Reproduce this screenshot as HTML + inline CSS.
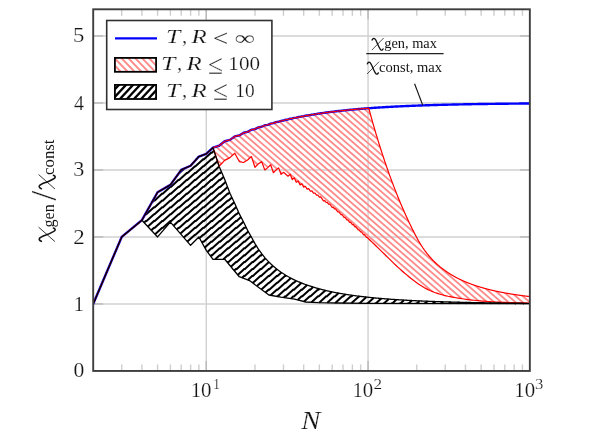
<!DOCTYPE html>
<html><head><meta charset="utf-8"><title>chart</title>
<style>html,body{margin:0;padding:0;background:#fff;}svg{display:block;will-change:transform;}</style>
</head><body>
<svg width="598" height="434" viewBox="0 0 598 434">
<defs>
<clipPath id="cp"><rect x="93.20" y="9.30" width="436.64" height="361.65"/></clipPath>
</defs>
<rect width="598" height="434" fill="#fff"/>
<line x1="93.20" y1="303.95" x2="529.84" y2="303.95" stroke="#d0d0d0" stroke-width="1.4"/>
<line x1="93.20" y1="236.95" x2="529.84" y2="236.95" stroke="#d0d0d0" stroke-width="1.4"/>
<line x1="93.20" y1="169.95" x2="529.84" y2="169.95" stroke="#d0d0d0" stroke-width="1.4"/>
<line x1="93.20" y1="102.95" x2="529.84" y2="102.95" stroke="#d0d0d0" stroke-width="1.4"/>
<line x1="93.20" y1="35.95" x2="529.84" y2="35.95" stroke="#d0d0d0" stroke-width="1.4"/>
<line x1="206.28" y1="9.30" x2="206.28" y2="370.95" stroke="#d0d0d0" stroke-width="1.4"/>
<line x1="368.06" y1="9.30" x2="368.06" y2="370.95" stroke="#d0d0d0" stroke-width="1.4"/>
<line x1="93.20" y1="303.95" x2="103.20" y2="303.95" stroke="#bababa" stroke-width="1.4"/>
<line x1="529.84" y1="303.95" x2="519.84" y2="303.95" stroke="#bababa" stroke-width="1.4"/>
<line x1="93.20" y1="236.95" x2="103.20" y2="236.95" stroke="#bababa" stroke-width="1.4"/>
<line x1="529.84" y1="236.95" x2="519.84" y2="236.95" stroke="#bababa" stroke-width="1.4"/>
<line x1="93.20" y1="169.95" x2="103.20" y2="169.95" stroke="#bababa" stroke-width="1.4"/>
<line x1="529.84" y1="169.95" x2="519.84" y2="169.95" stroke="#bababa" stroke-width="1.4"/>
<line x1="93.20" y1="102.95" x2="103.20" y2="102.95" stroke="#bababa" stroke-width="1.4"/>
<line x1="529.84" y1="102.95" x2="519.84" y2="102.95" stroke="#bababa" stroke-width="1.4"/>
<line x1="93.20" y1="35.95" x2="103.20" y2="35.95" stroke="#bababa" stroke-width="1.4"/>
<line x1="529.84" y1="35.95" x2="519.84" y2="35.95" stroke="#bababa" stroke-width="1.4"/>
<line x1="206.28" y1="370.95" x2="206.28" y2="360.95" stroke="#bababa" stroke-width="1.4"/>
<line x1="206.28" y1="9.30" x2="206.28" y2="19.30" stroke="#bababa" stroke-width="1.4"/>
<line x1="368.06" y1="370.95" x2="368.06" y2="360.95" stroke="#bababa" stroke-width="1.4"/>
<line x1="368.06" y1="9.30" x2="368.06" y2="19.30" stroke="#bababa" stroke-width="1.4"/>
<line x1="121.69" y1="370.95" x2="121.69" y2="364.45" stroke="#cecece" stroke-width="1.4"/>
<line x1="121.69" y1="9.30" x2="121.69" y2="15.80" stroke="#cecece" stroke-width="1.4"/>
<line x1="141.90" y1="370.95" x2="141.90" y2="364.45" stroke="#cecece" stroke-width="1.4"/>
<line x1="141.90" y1="9.30" x2="141.90" y2="15.80" stroke="#cecece" stroke-width="1.4"/>
<line x1="157.58" y1="370.95" x2="157.58" y2="364.45" stroke="#cecece" stroke-width="1.4"/>
<line x1="157.58" y1="9.30" x2="157.58" y2="15.80" stroke="#cecece" stroke-width="1.4"/>
<line x1="170.39" y1="370.95" x2="170.39" y2="364.45" stroke="#cecece" stroke-width="1.4"/>
<line x1="170.39" y1="9.30" x2="170.39" y2="15.80" stroke="#cecece" stroke-width="1.4"/>
<line x1="181.22" y1="370.95" x2="181.22" y2="364.45" stroke="#cecece" stroke-width="1.4"/>
<line x1="181.22" y1="9.30" x2="181.22" y2="15.80" stroke="#cecece" stroke-width="1.4"/>
<line x1="190.60" y1="370.95" x2="190.60" y2="364.45" stroke="#cecece" stroke-width="1.4"/>
<line x1="190.60" y1="9.30" x2="190.60" y2="15.80" stroke="#cecece" stroke-width="1.4"/>
<line x1="198.88" y1="370.95" x2="198.88" y2="364.45" stroke="#cecece" stroke-width="1.4"/>
<line x1="198.88" y1="9.30" x2="198.88" y2="15.80" stroke="#cecece" stroke-width="1.4"/>
<line x1="254.98" y1="370.95" x2="254.98" y2="364.45" stroke="#cecece" stroke-width="1.4"/>
<line x1="254.98" y1="9.30" x2="254.98" y2="15.80" stroke="#cecece" stroke-width="1.4"/>
<line x1="283.47" y1="370.95" x2="283.47" y2="364.45" stroke="#cecece" stroke-width="1.4"/>
<line x1="283.47" y1="9.30" x2="283.47" y2="15.80" stroke="#cecece" stroke-width="1.4"/>
<line x1="303.68" y1="370.95" x2="303.68" y2="364.45" stroke="#cecece" stroke-width="1.4"/>
<line x1="303.68" y1="9.30" x2="303.68" y2="15.80" stroke="#cecece" stroke-width="1.4"/>
<line x1="319.36" y1="370.95" x2="319.36" y2="364.45" stroke="#cecece" stroke-width="1.4"/>
<line x1="319.36" y1="9.30" x2="319.36" y2="15.80" stroke="#cecece" stroke-width="1.4"/>
<line x1="332.17" y1="370.95" x2="332.17" y2="364.45" stroke="#cecece" stroke-width="1.4"/>
<line x1="332.17" y1="9.30" x2="332.17" y2="15.80" stroke="#cecece" stroke-width="1.4"/>
<line x1="343.00" y1="370.95" x2="343.00" y2="364.45" stroke="#cecece" stroke-width="1.4"/>
<line x1="343.00" y1="9.30" x2="343.00" y2="15.80" stroke="#cecece" stroke-width="1.4"/>
<line x1="352.38" y1="370.95" x2="352.38" y2="364.45" stroke="#cecece" stroke-width="1.4"/>
<line x1="352.38" y1="9.30" x2="352.38" y2="15.80" stroke="#cecece" stroke-width="1.4"/>
<line x1="360.66" y1="370.95" x2="360.66" y2="364.45" stroke="#cecece" stroke-width="1.4"/>
<line x1="360.66" y1="9.30" x2="360.66" y2="15.80" stroke="#cecece" stroke-width="1.4"/>
<line x1="416.76" y1="370.95" x2="416.76" y2="364.45" stroke="#cecece" stroke-width="1.4"/>
<line x1="416.76" y1="9.30" x2="416.76" y2="15.80" stroke="#cecece" stroke-width="1.4"/>
<line x1="445.25" y1="370.95" x2="445.25" y2="364.45" stroke="#cecece" stroke-width="1.4"/>
<line x1="445.25" y1="9.30" x2="445.25" y2="15.80" stroke="#cecece" stroke-width="1.4"/>
<line x1="465.46" y1="370.95" x2="465.46" y2="364.45" stroke="#cecece" stroke-width="1.4"/>
<line x1="465.46" y1="9.30" x2="465.46" y2="15.80" stroke="#cecece" stroke-width="1.4"/>
<line x1="481.14" y1="370.95" x2="481.14" y2="364.45" stroke="#cecece" stroke-width="1.4"/>
<line x1="481.14" y1="9.30" x2="481.14" y2="15.80" stroke="#cecece" stroke-width="1.4"/>
<line x1="493.95" y1="370.95" x2="493.95" y2="364.45" stroke="#cecece" stroke-width="1.4"/>
<line x1="493.95" y1="9.30" x2="493.95" y2="15.80" stroke="#cecece" stroke-width="1.4"/>
<line x1="504.78" y1="370.95" x2="504.78" y2="364.45" stroke="#cecece" stroke-width="1.4"/>
<line x1="504.78" y1="9.30" x2="504.78" y2="15.80" stroke="#cecece" stroke-width="1.4"/>
<line x1="514.16" y1="370.95" x2="514.16" y2="364.45" stroke="#cecece" stroke-width="1.4"/>
<line x1="514.16" y1="9.30" x2="514.16" y2="15.80" stroke="#cecece" stroke-width="1.4"/>
<line x1="522.44" y1="370.95" x2="522.44" y2="364.45" stroke="#cecece" stroke-width="1.4"/>
<line x1="522.44" y1="9.30" x2="522.44" y2="15.80" stroke="#cecece" stroke-width="1.4"/>
<g clip-path="url(#cp)">
<clipPath id="cr"><path d="M93.20,303.95 L121.69,236.95 L141.90,220.20 L157.58,192.28 L170.39,184.84 L181.22,169.95 L190.60,165.76 L198.88,156.55 L206.28,153.87 L212.98,147.62 L219.09,145.76 L224.71,141.24 L229.92,139.87 L234.77,136.45 L239.30,135.40 L243.56,132.73 L247.58,131.90 L251.38,129.75 L254.98,129.08 L258.41,127.31 L261.68,126.76 L264.80,125.28 L267.79,124.82 L270.66,123.57 L273.41,123.17 L276.07,122.09 L278.62,121.75 L281.09,120.82 L283.47,120.52 L285.77,119.70 L288.00,119.44 L290.16,118.71 L292.26,118.48 L294.30,117.84 L296.28,117.63 L298.20,117.06 L300.08,116.87 L301.90,116.35 L303.68,116.18 L305.42,115.71 L307.11,115.56 L308.76,115.13 L310.38,114.99 L311.96,114.60 L313.50,114.48 L315.01,114.12 L316.49,114.00 L317.94,113.67 L319.36,113.56 L320.75,113.26 L322.11,113.16 L323.45,112.88 L324.77,112.78 L326.06,112.52 L327.32,112.44 L328.56,112.19 L329.79,112.11 L330.99,111.88 L332.17,111.81 L333.33,111.60 L334.47,111.53 L335.60,111.32 L336.70,111.26 L337.79,111.07 L338.87,111.01 L339.92,110.83 L340.96,110.77 L341.99,110.61 L343.00,110.55 L344.00,110.39 L344.98,110.34 L345.95,110.19 L346.90,110.14 L347.85,110.00 L348.78,109.96 L349.70,109.82 L350.60,109.78 L351.50,109.65 L352.38,109.61 L353.25,109.49 L354.12,109.45 L354.97,109.33 L355.81,109.29 L356.64,109.18 L357.46,109.15 L358.27,109.04 L359.08,109.01 L359.87,108.91 L360.66,108.87 L361.43,108.78 L362.20,108.74 L362.96,108.65 L363.71,108.62 L364.46,108.53 L365.19,108.50 L365.92,108.42 L366.64,108.39 L367.35,108.31 L368.06,108.28 L368.76,108.20 L369.45,110.78 L370.14,113.26 L370.82,115.74 L371.49,118.12 L372.15,120.51 L372.81,122.80 L373.47,125.10 L374.11,127.31 L374.76,129.53 L375.39,131.66 L376.02,133.80 L376.65,135.86 L377.27,137.92 L377.88,139.92 L378.49,141.91 L379.09,143.83 L379.69,145.76 L380.28,147.62 L380.87,149.48 L381.45,151.28 L382.03,153.08 L382.60,154.82 L383.17,156.56 L383.74,158.25 L384.30,159.94 L384.85,161.57 L385.40,163.21 L385.95,164.80 L386.49,166.38 L387.03,167.92 L387.57,169.46 L388.10,170.95 L388.62,172.44 L389.14,173.89 L389.66,175.34 L390.18,176.75 L390.69,178.15 L391.20,179.52 L391.70,180.89 L392.20,182.22 L392.70,183.55 L393.19,184.84 L393.68,186.13 L394.17,187.39 L394.65,188.65 L395.13,189.87 L395.60,191.09 L396.08,192.28 L396.55,193.47 L397.01,194.63 L397.48,195.79 L397.94,196.92 L398.40,198.05 L398.85,199.16 L399.30,200.26 L399.75,201.33 L400.20,202.40 L400.64,203.45 L401.08,204.50 L401.52,205.52 L401.95,206.54 L402.39,207.54 L402.82,208.53 L403.24,209.50 L403.67,210.48 L404.09,211.43 L404.51,212.38 L404.93,213.30 L405.34,214.23 L405.75,215.14 L406.16,216.04 L406.57,216.93 L406.98,217.81 L407.38,218.68 L407.78,219.54 L408.18,220.39 L408.57,221.23 L408.97,222.06 L409.36,222.89 L409.75,223.70 L410.13,224.51 L410.52,225.30 L410.90,226.09 L411.28,226.86 L411.66,227.64 L412.04,228.40 L412.41,229.16 L412.79,229.90 L413.16,230.64 L413.52,231.37 L413.89,232.09 L414.26,232.81 L414.62,233.52 L414.98,234.22 L415.34,234.91 L415.70,235.60 L416.05,236.28 L416.41,236.95 L416.76,237.62 L417.11,238.28 L417.46,238.92 L417.81,239.55 L418.15,240.17 L418.49,240.78 L418.84,241.37 L419.18,241.96 L419.52,242.53 L419.85,243.10 L420.19,243.65 L420.52,244.19 L420.85,244.73 L421.18,245.25 L421.51,245.77 L421.84,246.27 L422.17,246.77 L422.49,247.26 L422.81,247.74 L423.14,248.21 L423.46,248.68 L423.78,249.13 L424.09,249.58 L424.41,250.02 L424.72,250.46 L425.04,250.89 L425.35,251.31 L425.66,251.72 L425.97,252.13 L426.27,252.53 L426.58,252.93 L426.88,253.32 L427.19,253.70 L427.49,254.08 L427.79,254.45 L428.09,254.82 L428.39,255.18 L428.69,255.53 L428.98,255.88 L429.28,256.23 L429.57,256.57 L429.86,256.91 L430.15,257.24 L430.44,257.57 L430.73,257.89 L431.02,258.21 L431.30,258.52 L431.59,258.83 L431.87,259.13 L432.16,259.43 L432.44,259.73 L432.72,260.02 L433.00,260.31 L433.28,260.60 L433.55,260.88 L433.83,261.16 L434.10,261.43 L434.38,261.70 L434.65,261.97 L434.92,262.23 L435.19,262.49 L435.46,262.75 L435.73,263.01 L436.00,263.26 L436.27,263.50 L436.53,263.75 L436.80,263.99 L437.06,264.23 L437.32,264.47 L437.58,264.70 L437.85,264.93 L438.11,265.16 L438.36,265.39 L438.62,265.61 L438.88,265.83 L439.13,266.05 L439.39,266.26 L439.64,266.48 L439.90,266.69 L440.15,266.89 L440.40,267.10 L440.65,267.30 L440.90,267.50 L441.15,267.70 L441.40,267.90 L441.64,268.10 L441.89,268.29 L442.14,268.48 L442.38,268.67 L442.62,268.85 L442.87,269.04 L443.11,269.22 L443.35,269.40 L443.59,269.58 L443.83,269.76 L444.07,269.93 L444.30,270.11 L444.54,270.28 L444.78,270.45 L445.01,270.62 L445.25,270.78 L445.48,270.95 L445.71,271.11 L445.95,271.28 L446.18,271.44 L446.41,271.59 L446.64,271.75 L446.87,271.91 L447.10,272.06 L447.32,272.21 L447.55,272.36 L447.78,272.51 L448.00,272.66 L448.23,272.81 L448.45,272.95 L448.68,273.10 L448.90,273.24 L449.12,273.38 L449.34,273.52 L449.56,273.66 L449.78,273.80 L450.00,273.94 L450.22,274.07 L450.44,274.21 L450.66,274.34 L450.87,274.47 L451.09,274.60 L451.30,274.73 L451.52,274.86 L451.73,274.98 L451.94,275.11 L452.16,275.24 L452.37,275.36 L452.58,275.48 L452.79,275.60 L453.00,275.72 L453.21,275.84 L453.42,275.96 L453.63,276.08 L453.84,276.20 L454.04,276.31 L454.25,276.43 L454.45,276.54 L454.66,276.65 L454.86,276.77 L455.07,276.88 L455.27,276.99 L455.47,277.10 L455.68,277.20 L455.88,277.31 L456.08,277.42 L456.28,277.52 L456.48,277.63 L456.68,277.73 L456.88,277.84 L457.08,277.94 L457.27,278.04 L457.47,278.14 L457.67,278.24 L457.86,278.34 L458.06,278.44 L458.25,278.54 L458.45,278.63 L458.64,278.73 L458.83,278.82 L459.03,278.92 L459.22,279.01 L459.41,279.11 L459.60,279.20 L459.79,279.29 L459.98,279.38 L460.17,279.47 L460.36,279.56 L460.55,279.65 L460.74,279.74 L460.93,279.83 L461.11,279.92 L461.30,280.00 L461.49,280.09 L461.67,280.18 L461.86,280.26 L462.04,280.35 L462.23,280.43 L462.41,280.51 L462.59,280.59 L462.78,280.68 L462.96,280.76 L463.14,280.84 L463.32,280.92 L463.50,281.00 L463.68,281.08 L463.86,281.16 L464.04,281.23 L464.22,281.31 L464.40,281.39 L464.58,281.47 L464.75,281.54 L464.93,281.62 L465.11,281.69 L465.28,281.77 L465.46,281.84 L465.64,281.91 L465.81,281.99 L465.99,282.06 L466.16,282.13 L466.33,282.20 L466.51,282.27 L466.68,282.34 L466.85,282.41 L467.02,282.48 L467.20,282.55 L467.37,282.62 L467.54,282.69 L467.71,282.76 L467.88,282.83 L468.05,282.89 L468.22,282.96 L468.38,283.03 L468.55,283.09 L468.72,283.16 L468.89,283.22 L469.06,283.29 L469.22,283.35 L469.39,283.41 L469.55,283.48 L469.72,283.54 L469.89,283.60 L470.05,283.67 L470.21,283.73 L470.38,283.79 L470.54,283.85 L470.71,283.91 L470.87,283.97 L471.03,284.03 L471.19,284.09 L471.35,284.15 L471.52,284.21 L471.68,284.27 L471.84,284.33 L472.00,284.38 L472.16,284.44 L472.32,284.50 L472.48,284.56 L472.63,284.61 L472.79,284.67 L472.95,284.72 L473.11,284.78 L473.27,284.83 L473.42,284.89 L473.58,284.94 L473.74,285.00 L473.89,285.05 L474.05,285.11 L474.20,285.16 L474.36,285.21 L474.51,285.27 L474.67,285.32 L474.82,285.37 L474.97,285.42 L475.13,285.47 L475.28,285.52 L475.43,285.58 L475.59,285.63 L475.74,285.68 L475.89,285.73 L476.04,285.78 L476.19,285.83 L476.34,285.88 L476.49,285.93 L476.64,285.97 L476.79,286.02 L476.94,286.07 L477.09,286.12 L477.24,286.17 L477.39,286.21 L477.53,286.26 L477.68,286.31 L477.83,286.36 L477.98,286.40 L478.12,286.45 L478.27,286.49 L478.42,286.54 L478.56,286.59 L478.71,286.63 L478.85,286.68 L479.00,286.72 L479.14,286.77 L479.29,286.81 L479.43,286.85 L479.58,286.90 L479.72,286.94 L479.86,286.99 L480.01,287.03 L480.15,287.07 L480.29,287.11 L480.43,287.16 L480.57,287.20 L480.72,287.24 L480.86,287.28 L481.00,287.33 L481.14,287.37 L481.28,287.41 L481.42,287.45 L481.56,287.49 L481.70,287.53 L481.84,287.57 L481.98,287.61 L482.12,287.65 L482.25,287.69 L482.39,287.73 L482.53,287.77 L482.67,287.81 L482.81,287.85 L482.94,287.89 L483.08,287.93 L483.22,287.97 L483.35,288.01 L483.49,288.04 L483.62,288.08 L483.76,288.12 L483.89,288.16 L484.03,288.19 L484.16,288.23 L484.30,288.27 L484.43,288.31 L484.57,288.34 L484.70,288.38 L484.83,288.42 L484.97,288.45 L485.10,288.49 L485.23,288.52 L485.37,288.56 L485.50,288.60 L485.63,288.63 L485.76,288.67 L485.89,288.70 L486.02,288.74 L486.15,288.77 L486.29,288.81 L486.42,288.84 L486.55,288.88 L486.68,288.91 L486.81,288.94 L486.94,288.98 L487.06,289.01 L487.19,289.04 L487.32,289.08 L487.45,289.11 L487.58,289.14 L487.71,289.18 L487.84,289.21 L487.96,289.24 L488.09,289.28 L488.22,289.31 L488.34,289.34 L488.47,289.37 L488.60,289.40 L488.72,289.44 L488.85,289.47 L488.98,289.50 L489.10,289.53 L489.23,289.56 L489.35,289.59 L489.48,289.62 L489.60,289.65 L489.73,289.69 L489.85,289.72 L489.97,289.75 L490.10,289.78 L490.22,289.81 L490.34,289.84 L490.47,289.87 L490.59,289.90 L490.71,289.93 L490.84,289.96 L490.96,289.99 L491.08,290.02 L491.20,290.04 L491.32,290.07 L491.45,290.10 L491.57,290.13 L491.69,290.16 L491.81,290.19 L491.93,290.22 L492.05,290.25 L492.17,290.27 L492.29,290.30 L492.41,290.33 L492.53,290.36 L492.65,290.39 L492.77,290.41 L492.89,290.44 L493.01,290.47 L493.12,290.50 L493.24,290.52 L493.36,290.55 L493.48,290.58 L493.60,290.60 L493.71,290.63 L493.83,290.66 L493.95,290.68 L494.07,290.71 L494.18,290.74 L494.30,290.76 L494.42,290.79 L494.53,290.82 L494.65,290.84 L494.76,290.87 L494.88,290.89 L494.99,290.92 L495.11,290.94 L495.23,290.97 L495.34,290.99 L495.45,291.02 L495.57,291.05 L495.68,291.07 L495.80,291.10 L495.91,291.12 L496.03,291.14 L496.14,291.17 L496.25,291.19 L496.37,291.22 L496.48,291.24 L496.59,291.27 L496.70,291.29 L496.82,291.32 L496.93,291.34 L497.04,291.36 L497.15,291.39 L497.27,291.41 L497.38,291.43 L497.49,291.46 L497.60,291.48 L497.71,291.51 L497.82,291.53 L497.93,291.55 L498.04,291.57 L498.15,291.60 L498.26,291.62 L498.37,291.64 L498.48,291.67 L498.59,291.69 L498.70,291.71 L498.81,291.73 L498.92,291.76 L499.03,291.78 L499.14,291.80 L499.25,291.82 L499.36,291.85 L499.46,291.87 L499.57,291.89 L499.68,291.91 L499.79,291.93 L499.90,291.96 L500.00,291.98 L500.11,292.00 L500.22,292.02 L500.33,292.04 L500.43,292.06 L500.54,292.08 L500.65,292.11 L500.75,292.13 L500.86,292.15 L500.96,292.17 L501.07,292.19 L501.18,292.21 L501.28,292.23 L501.39,292.25 L501.49,292.27 L501.60,292.29 L501.70,292.31 L501.81,292.33 L501.91,292.35 L502.02,292.37 L502.12,292.39 L502.22,292.41 L502.33,292.43 L502.43,292.45 L502.54,292.47 L502.64,292.49 L502.74,292.51 L502.85,292.53 L502.95,292.55 L503.05,292.57 L503.15,292.59 L503.26,292.61 L503.36,292.63 L503.46,292.65 L503.56,292.67 L503.67,292.69 L503.77,292.71 L503.87,292.73 L503.97,292.75 L504.07,292.76 L504.17,292.78 L504.28,292.80 L504.38,292.82 L504.48,292.84 L504.58,292.86 L504.68,292.88 L504.78,292.89 L504.88,292.91 L504.98,292.93 L505.08,292.95 L505.18,292.97 L505.28,292.99 L505.38,293.00 L505.48,293.02 L505.58,293.04 L505.68,293.06 L505.78,293.08 L505.87,293.09 L505.97,293.11 L506.07,293.13 L506.17,293.15 L506.27,293.16 L506.37,293.18 L506.47,293.20 L506.56,293.22 L506.66,293.23 L506.76,293.25 L506.86,293.27 L506.95,293.29 L507.05,293.30 L507.15,293.32 L507.24,293.34 L507.34,293.35 L507.44,293.37 L507.53,293.39 L507.63,293.40 L507.73,293.42 L507.82,293.44 L507.92,293.45 L508.02,293.47 L508.11,293.49 L508.21,293.50 L508.30,293.52 L508.40,293.54 L508.49,293.55 L508.59,293.57 L508.68,293.59 L508.78,293.60 L508.87,293.62 L508.97,293.63 L509.06,293.65 L509.16,293.67 L509.25,293.68 L509.35,293.70 L509.44,293.71 L509.53,293.73 L509.63,293.75 L509.72,293.76 L509.81,293.78 L509.91,293.79 L510.00,293.81 L510.09,293.82 L510.19,293.84 L510.28,293.85 L510.37,293.87 L510.46,293.88 L510.56,293.90 L510.65,293.92 L510.74,293.93 L510.83,293.95 L510.93,293.96 L511.02,293.98 L511.11,293.99 L511.20,294.01 L511.29,294.02 L511.38,294.04 L511.48,294.05 L511.57,294.06 L511.66,294.08 L511.75,294.09 L511.84,294.11 L511.93,294.12 L512.02,294.14 L512.11,294.15 L512.20,294.17 L512.29,294.18 L512.38,294.20 L512.47,294.21 L512.56,294.22 L512.65,294.24 L512.74,294.25 L512.83,294.27 L512.92,294.28 L513.01,294.29 L513.10,294.31 L513.19,294.32 L513.28,294.34 L513.37,294.35 L513.46,294.36 L513.54,294.38 L513.63,294.39 L513.72,294.41 L513.81,294.42 L513.90,294.43 L513.99,294.45 L514.07,294.46 L514.16,294.47 L514.25,294.49 L514.34,294.50 L514.42,294.51 L514.51,294.53 L514.60,294.54 L514.69,294.55 L514.77,294.57 L514.86,294.58 L514.95,294.59 L515.03,294.61 L515.12,294.62 L515.21,294.63 L515.29,294.65 L515.38,294.66 L515.47,294.67 L515.55,294.69 L515.64,294.70 L515.72,294.71 L515.81,294.72 L515.90,294.74 L515.98,294.75 L516.07,294.76 L516.15,294.78 L516.24,294.79 L516.32,294.80 L516.41,294.81 L516.49,294.83 L516.58,294.84 L516.66,294.85 L516.75,294.86 L516.83,294.88 L516.92,294.89 L517.00,294.90 L517.09,294.91 L517.17,294.93 L517.25,294.94 L517.34,294.95 L517.42,294.96 L517.51,294.97 L517.59,294.99 L517.67,295.00 L517.76,295.01 L517.84,295.02 L517.92,295.03 L518.01,295.05 L518.09,295.06 L518.17,295.07 L518.26,295.08 L518.34,295.09 L518.42,295.11 L518.50,295.12 L518.59,295.13 L518.67,295.14 L518.75,295.15 L518.83,295.16 L518.91,295.18 L519.00,295.19 L519.08,295.20 L519.16,295.21 L519.24,295.22 L519.32,295.23 L519.41,295.25 L519.49,295.26 L519.57,295.27 L519.65,295.28 L519.73,295.29 L519.81,295.30 L519.89,295.31 L519.97,295.32 L520.05,295.34 L520.14,295.35 L520.22,295.36 L520.30,295.37 L520.38,295.38 L520.46,295.39 L520.54,295.40 L520.62,295.41 L520.70,295.42 L520.78,295.44 L520.86,295.45 L520.94,295.46 L521.02,295.47 L521.10,295.48 L521.18,295.49 L521.26,295.50 L521.34,295.51 L521.41,295.52 L521.49,295.53 L521.57,295.54 L521.65,295.55 L521.73,295.56 L521.81,295.57 L521.89,295.59 L521.97,295.60 L522.05,295.61 L522.12,295.62 L522.20,295.63 L522.28,295.64 L522.36,295.65 L522.44,295.66 L522.51,295.67 L522.59,295.68 L522.67,295.69 L522.75,295.70 L522.83,295.71 L522.90,295.72 L522.98,295.73 L523.06,295.74 L523.14,295.75 L523.21,295.76 L523.29,295.77 L523.37,295.78 L523.44,295.79 L523.52,295.80 L523.60,295.81 L523.67,295.82 L523.75,295.83 L523.83,295.84 L523.90,295.85 L523.98,295.86 L524.06,295.87 L524.13,295.88 L524.21,295.89 L524.29,295.90 L524.36,295.91 L524.44,295.92 L524.51,295.93 L524.59,295.94 L524.66,295.95 L524.74,295.96 L524.82,295.97 L524.89,295.98 L524.97,295.99 L525.04,296.00 L525.12,296.01 L525.19,296.02 L525.27,296.03 L525.34,296.03 L525.42,296.04 L525.49,296.05 L525.57,296.06 L525.64,296.07 L525.72,296.08 L525.79,296.09 L525.86,296.10 L525.94,296.11 L526.01,296.12 L526.09,296.13 L526.16,296.14 L526.24,296.15 L526.31,296.16 L526.38,296.16 L526.46,296.17 L526.53,296.18 L526.60,296.19 L526.68,296.20 L526.75,296.21 L526.82,296.22 L526.90,296.23 L526.97,296.24 L527.04,296.25 L527.12,296.26 L527.19,296.26 L527.26,296.27 L527.34,296.28 L527.41,296.29 L527.48,296.30 L527.55,296.31 L527.63,296.32 L527.70,296.33 L527.77,296.33 L527.84,296.34 L527.92,296.35 L527.99,296.36 L528.06,296.37 L528.13,296.38 L528.20,296.39 L528.28,296.40 L528.35,296.40 L528.42,296.41 L528.49,296.42 L528.56,296.43 L528.63,296.44 L528.71,296.45 L528.78,296.46 L528.85,296.46 L528.92,296.47 L528.99,296.48 L529.06,296.49 L529.13,296.50 L529.20,296.51 L529.28,296.51 L529.35,296.52 L529.42,296.53 L529.49,296.54 L529.56,296.55 L529.63,296.56 L529.70,296.56 L529.77,296.57 L529.84,296.58 L529.84,303.00 L528.06,302.98 L526.06,302.96 L524.06,302.93 L522.06,302.89 L520.06,302.85 L518.06,302.80 L516.06,302.75 L514.06,302.69 L512.06,302.63 L510.06,302.57 L508.06,302.50 L506.06,302.44 L504.06,302.37 L502.06,302.29 L500.06,302.20 L498.06,302.10 L496.06,302.00 L494.06,301.88 L492.06,301.76 L490.06,301.64 L488.06,301.50 L486.06,301.36 L484.06,301.21 L482.06,301.05 L480.06,300.87 L478.06,300.68 L476.06,300.48 L474.06,300.26 L472.06,300.03 L470.06,299.80 L468.06,299.56 L466.06,299.30 L464.06,299.03 L462.06,298.74 L460.06,298.44 L458.06,298.12 L456.06,297.78 L454.06,297.43 L452.06,297.07 L450.06,296.67 L448.06,296.26 L446.06,295.80 L444.06,295.32 L442.06,294.79 L440.06,294.22 L438.06,293.60 L436.06,292.94 L434.06,292.22 L432.06,291.42 L430.06,290.55 L428.06,289.61 L426.06,288.60 L424.06,287.53 L422.06,286.34 L420.06,285.06 L418.06,283.70 L416.06,282.29 L414.06,280.84 L412.06,279.32 L410.06,277.72 L408.06,276.08 L406.06,274.40 L404.06,272.70 L402.06,270.96 L400.06,269.17 L398.06,267.35 L396.06,265.50 L394.06,263.60 L392.06,261.64 L390.06,259.64 L388.06,257.67 L386.06,255.71 L384.06,253.76 L382.06,251.81 L380.06,249.87 L378.06,247.92 L376.06,245.99 L374.06,244.05 L372.06,242.13 L370.06,240.20 L368.06,238.29 L367.35,237.36 L366.64,237.52 L365.92,236.58 L365.19,235.63 L364.46,234.66 L363.71,234.81 L362.96,233.82 L362.20,232.82 L361.43,231.79 L360.66,231.94 L359.87,230.89 L359.08,229.84 L358.27,229.97 L357.46,228.89 L356.64,227.78 L355.81,226.67 L354.97,226.79 L354.12,225.65 L353.25,224.47 L352.38,224.61 L351.50,223.41 L350.60,222.19 L349.70,222.31 L348.78,221.07 L347.85,219.78 L346.90,219.92 L345.95,218.59 L344.98,217.27 L344.00,217.38 L343.00,216.01 L341.99,214.59 L340.96,214.72 L339.92,213.26 L338.87,211.80 L337.79,211.90 L336.70,210.39 L335.60,208.81 L334.47,208.93 L333.33,207.31 L332.17,207.44 L330.99,205.76 L329.79,204.07 L328.56,204.15 L327.32,202.41 L326.06,202.49 L324.77,200.69 L323.45,200.78 L322.11,198.91 L320.75,196.94 L319.36,197.06 L317.94,195.01 L316.49,195.14 L315.01,193.00 L313.50,193.14 L311.96,190.87 L310.38,191.22 L308.76,188.63 L307.11,189.24 L305.42,186.27 L303.68,187.14 L301.90,183.74 L300.08,184.88 L298.20,180.96 L296.28,182.37 L294.30,177.85 L292.26,179.53 L290.16,174.29 L288.00,176.23 L285.77,174.30 L283.47,172.33 L281.09,174.42 L278.62,167.90 L276.07,169.95 L273.41,172.73 L270.66,164.80 L267.79,167.62 L264.80,169.95 L261.68,161.64 L258.41,163.86 L254.98,167.27 L251.38,156.55 L247.58,160.02 L243.56,162.51 L239.30,161.57 L234.77,153.20 L229.92,157.64 L224.71,160.38 L219.09,166.23 L212.98,147.62 L206.28,153.87 L198.88,156.55 L190.60,165.76 L181.22,169.95 L170.39,184.84 L157.58,192.28 L141.90,220.20 L121.69,236.95 L93.20,303.95Z"/></clipPath>
<clipPath id="cb"><path d="M93.20,303.95 L121.69,236.95 L141.90,220.20 L157.58,192.28 L170.39,184.84 L181.22,169.95 L190.60,165.76 L198.88,156.55 L206.28,153.87 L212.98,147.62 L219.09,166.23 L224.71,179.52 L229.92,193.19 L234.77,203.45 L239.30,213.92 L243.56,222.06 L247.58,230.33 L251.38,236.95 L254.98,243.65 L258.41,249.13 L261.68,253.70 L264.80,257.57 L267.79,260.88 L270.66,263.75 L273.41,266.26 L276.07,268.48 L278.62,270.45 L281.09,272.21 L283.47,273.80 L285.77,275.24 L288.00,276.54 L290.16,277.73 L292.26,278.82 L294.30,279.83 L296.28,280.76 L298.20,281.62 L300.08,282.41 L301.90,283.16 L303.68,283.85 L305.42,284.50 L307.11,285.11 L308.76,285.68 L310.38,286.21 L311.96,286.72 L313.50,287.20 L315.01,287.65 L316.49,288.08 L317.94,288.49 L319.36,288.88 L320.75,289.24 L322.11,289.59 L323.45,289.93 L324.77,290.25 L326.06,290.55 L327.32,290.84 L328.56,291.12 L329.79,291.39 L330.99,291.64 L332.17,291.89 L333.33,292.13 L334.47,292.35 L335.60,292.57 L336.70,292.78 L337.79,292.99 L338.87,293.18 L339.92,293.37 L340.96,293.55 L341.99,293.73 L343.00,293.90 L344.00,294.06 L344.98,294.22 L345.95,294.38 L346.90,294.53 L347.85,294.67 L348.78,294.81 L349.70,294.95 L350.60,295.08 L351.50,295.21 L352.38,295.34 L353.25,295.46 L354.12,295.57 L354.97,295.69 L355.81,295.80 L356.64,295.91 L357.46,296.02 L358.27,296.12 L359.08,296.22 L359.87,296.32 L360.66,296.41 L361.43,296.51 L362.20,296.60 L362.96,296.68 L363.71,296.77 L364.46,296.86 L365.19,296.94 L365.92,297.02 L366.64,297.10 L367.35,297.17 L368.06,297.25 L368.76,297.32 L369.45,297.40 L370.14,297.47 L370.82,297.54 L371.49,297.60 L372.15,297.67 L372.81,297.73 L373.47,297.80 L374.11,297.86 L374.76,297.92 L375.39,297.98 L376.02,298.04 L376.65,298.10 L377.27,298.15 L377.88,298.21 L378.49,298.26 L379.09,298.31 L379.69,298.37 L380.28,298.42 L380.87,298.47 L381.45,298.52 L382.03,298.57 L382.60,298.61 L383.17,298.66 L383.74,298.71 L384.30,298.75 L384.85,298.80 L385.40,298.84 L385.95,298.88 L386.49,298.93 L387.03,298.97 L387.57,299.01 L388.10,299.05 L388.62,299.09 L389.14,299.13 L389.66,299.16 L390.18,299.20 L390.69,299.24 L391.20,299.28 L391.70,299.31 L392.20,299.35 L392.70,299.38 L393.19,299.42 L393.68,299.45 L394.17,299.48 L394.65,299.52 L395.13,299.55 L395.60,299.58 L396.08,299.61 L396.55,299.64 L397.01,299.67 L397.48,299.70 L397.94,299.73 L398.40,299.76 L398.85,299.79 L399.30,299.82 L399.75,299.85 L400.20,299.88 L400.64,299.90 L401.08,299.93 L401.52,299.96 L401.95,299.98 L402.39,300.01 L402.82,300.03 L403.24,300.06 L403.67,300.08 L404.09,300.11 L404.51,300.13 L404.93,300.16 L405.34,300.18 L405.75,300.20 L406.16,300.23 L406.57,300.25 L406.98,300.27 L407.38,300.30 L407.78,300.32 L408.18,300.34 L408.57,300.36 L408.97,300.38 L409.36,300.40 L409.75,300.42 L410.13,300.44 L410.52,300.46 L410.90,300.48 L411.28,300.50 L411.66,300.52 L412.04,300.54 L412.41,300.56 L412.79,300.58 L413.16,300.60 L413.52,300.62 L413.89,300.64 L414.26,300.65 L414.62,300.67 L414.98,300.69 L415.34,300.71 L415.70,300.73 L416.05,300.74 L416.41,300.76 L416.76,300.78 L417.11,300.79 L417.46,300.81 L417.81,300.83 L418.15,300.84 L418.49,300.86 L418.84,300.87 L419.18,300.89 L419.52,300.90 L419.85,300.92 L420.19,300.94 L420.52,300.95 L420.85,300.96 L421.18,300.98 L421.51,300.99 L421.84,301.01 L422.17,301.02 L422.49,301.04 L422.81,301.05 L423.14,301.06 L423.46,301.08 L423.78,301.09 L424.09,301.11 L424.41,301.12 L424.72,301.13 L425.04,301.15 L425.35,301.16 L425.66,301.17 L425.97,301.18 L426.27,301.20 L426.58,301.21 L426.88,301.22 L427.19,301.23 L427.49,301.25 L427.79,301.26 L428.09,301.27 L428.39,301.28 L428.69,301.29 L428.98,301.31 L429.28,301.32 L429.57,301.33 L429.86,301.34 L430.15,301.35 L430.44,301.36 L430.73,301.37 L431.02,301.38 L431.30,301.39 L431.59,301.41 L431.87,301.42 L432.16,301.43 L432.44,301.44 L432.72,301.45 L433.00,301.46 L433.28,301.47 L433.55,301.48 L433.83,301.49 L434.10,301.50 L434.38,301.51 L434.65,301.52 L434.92,301.53 L435.19,301.54 L435.46,301.55 L435.73,301.56 L436.00,301.57 L436.27,301.58 L436.53,301.59 L436.80,301.59 L437.06,301.60 L437.32,301.61 L437.58,301.62 L437.85,301.63 L438.11,301.64 L438.36,301.65 L438.62,301.66 L438.88,301.67 L439.13,301.67 L439.39,301.68 L439.64,301.69 L439.90,301.70 L440.15,301.71 L440.40,301.72 L440.65,301.72 L440.90,301.73 L441.15,301.74 L441.40,301.75 L441.64,301.76 L441.89,301.77 L442.14,301.77 L442.38,301.78 L442.62,301.79 L442.87,301.80 L443.11,301.80 L443.35,301.81 L443.59,301.82 L443.83,301.83 L444.07,301.83 L444.30,301.84 L444.54,301.85 L444.78,301.86 L445.01,301.86 L445.25,301.87 L445.48,301.88 L445.71,301.88 L445.95,301.89 L446.18,301.90 L446.41,301.91 L446.64,301.91 L446.87,301.92 L447.10,301.93 L447.32,301.93 L447.55,301.94 L447.78,301.95 L448.00,301.95 L448.23,301.96 L448.45,301.97 L448.68,301.97 L448.90,301.98 L449.12,301.99 L449.34,301.99 L449.56,302.00 L449.78,302.00 L450.00,302.01 L450.22,302.02 L450.44,302.02 L450.66,302.03 L450.87,302.04 L451.09,302.04 L451.30,302.05 L451.52,302.05 L451.73,302.06 L451.94,302.07 L452.16,302.07 L452.37,302.08 L452.58,302.08 L452.79,302.09 L453.00,302.09 L453.21,302.10 L453.42,302.11 L453.63,302.11 L453.84,302.12 L454.04,302.12 L454.25,302.13 L454.45,302.13 L454.66,302.14 L454.86,302.14 L455.07,302.15 L455.27,302.16 L455.47,302.16 L455.68,302.17 L455.88,302.17 L456.08,302.18 L456.28,302.18 L456.48,302.19 L456.68,302.19 L456.88,302.20 L457.08,302.20 L457.27,302.21 L457.47,302.21 L457.67,302.22 L457.86,302.22 L458.06,302.23 L458.25,302.23 L458.45,302.24 L458.64,302.24 L458.83,302.25 L459.03,302.25 L459.22,302.26 L459.41,302.26 L459.60,302.27 L459.79,302.27 L459.98,302.27 L460.17,302.28 L460.36,302.28 L460.55,302.29 L460.74,302.29 L460.93,302.30 L461.11,302.30 L461.30,302.31 L461.49,302.31 L461.67,302.32 L461.86,302.32 L462.04,302.32 L462.23,302.33 L462.41,302.33 L462.59,302.34 L462.78,302.34 L462.96,302.35 L463.14,302.35 L463.32,302.35 L463.50,302.36 L463.68,302.36 L463.86,302.37 L464.04,302.37 L464.22,302.38 L464.40,302.38 L464.58,302.38 L464.75,302.39 L464.93,302.39 L465.11,302.40 L465.28,302.40 L465.46,302.40 L465.64,302.41 L465.81,302.41 L465.99,302.42 L466.16,302.42 L466.33,302.42 L466.51,302.43 L466.68,302.43 L466.85,302.43 L467.02,302.44 L467.20,302.44 L467.37,302.45 L467.54,302.45 L467.71,302.45 L467.88,302.46 L468.05,302.46 L468.22,302.46 L468.38,302.47 L468.55,302.47 L468.72,302.48 L468.89,302.48 L469.06,302.48 L469.22,302.49 L469.39,302.49 L469.55,302.49 L469.72,302.50 L469.89,302.50 L470.05,302.50 L470.21,302.51 L470.38,302.51 L470.54,302.51 L470.71,302.52 L470.87,302.52 L471.03,302.52 L471.19,302.53 L471.35,302.53 L471.52,302.53 L471.68,302.54 L471.84,302.54 L472.00,302.54 L472.16,302.55 L472.32,302.55 L472.48,302.55 L472.63,302.56 L472.79,302.56 L472.95,302.56 L473.11,302.57 L473.27,302.57 L473.42,302.57 L473.58,302.58 L473.74,302.58 L473.89,302.58 L474.05,302.59 L474.20,302.59 L474.36,302.59 L474.51,302.59 L474.67,302.60 L474.82,302.60 L474.97,302.60 L475.13,302.61 L475.28,302.61 L475.43,302.61 L475.59,302.62 L475.74,302.62 L475.89,302.62 L476.04,302.62 L476.19,302.63 L476.34,302.63 L476.49,302.63 L476.64,302.64 L476.79,302.64 L476.94,302.64 L477.09,302.64 L477.24,302.65 L477.39,302.65 L477.53,302.65 L477.68,302.66 L477.83,302.66 L477.98,302.66 L478.12,302.66 L478.27,302.67 L478.42,302.67 L478.56,302.67 L478.71,302.68 L478.85,302.68 L479.00,302.68 L479.14,302.68 L479.29,302.69 L479.43,302.69 L479.58,302.69 L479.72,302.69 L479.86,302.70 L480.01,302.70 L480.15,302.70 L480.29,302.70 L480.43,302.71 L480.57,302.71 L480.72,302.71 L480.86,302.71 L481.00,302.72 L481.14,302.72 L481.28,302.72 L481.42,302.72 L481.56,302.73 L481.70,302.73 L481.84,302.73 L481.98,302.73 L482.12,302.74 L482.25,302.74 L482.39,302.74 L482.53,302.74 L482.67,302.75 L482.81,302.75 L482.94,302.75 L483.08,302.75 L483.22,302.76 L483.35,302.76 L483.49,302.76 L483.62,302.76 L483.76,302.77 L483.89,302.77 L484.03,302.77 L484.16,302.77 L484.30,302.77 L484.43,302.78 L484.57,302.78 L484.70,302.78 L484.83,302.78 L484.97,302.79 L485.10,302.79 L485.23,302.79 L485.37,302.79 L485.50,302.79 L485.63,302.80 L485.76,302.80 L485.89,302.80 L486.02,302.80 L486.15,302.81 L486.29,302.81 L486.42,302.81 L486.55,302.81 L486.68,302.81 L486.81,302.82 L486.94,302.82 L487.06,302.82 L487.19,302.82 L487.32,302.82 L487.45,302.83 L487.58,302.83 L487.71,302.83 L487.84,302.83 L487.96,302.84 L488.09,302.84 L488.22,302.84 L488.34,302.84 L488.47,302.84 L488.60,302.85 L488.72,302.85 L488.85,302.85 L488.98,302.85 L489.10,302.85 L489.23,302.86 L489.35,302.86 L489.48,302.86 L489.60,302.86 L489.73,302.86 L489.85,302.87 L489.97,302.87 L490.10,302.87 L490.22,302.87 L490.34,302.87 L490.47,302.88 L490.59,302.88 L490.71,302.88 L490.84,302.88 L490.96,302.88 L491.08,302.88 L491.20,302.89 L491.32,302.89 L491.45,302.89 L491.57,302.89 L491.69,302.89 L491.81,302.90 L491.93,302.90 L492.05,302.90 L492.17,302.90 L492.29,302.90 L492.41,302.90 L492.53,302.91 L492.65,302.91 L492.77,302.91 L492.89,302.91 L493.01,302.91 L493.12,302.92 L493.24,302.92 L493.36,302.92 L493.48,302.92 L493.60,302.92 L493.71,302.92 L493.83,302.93 L493.95,302.93 L494.07,302.93 L494.18,302.93 L494.30,302.93 L494.42,302.93 L494.53,302.94 L494.65,302.94 L494.76,302.94 L494.88,302.94 L494.99,302.94 L495.11,302.94 L495.23,302.95 L495.34,302.95 L495.45,302.95 L495.57,302.95 L495.68,302.95 L495.80,302.95 L495.91,302.96 L496.03,302.96 L496.14,302.96 L496.25,302.96 L496.37,302.96 L496.48,302.96 L496.59,302.97 L496.70,302.97 L496.82,302.97 L496.93,302.97 L497.04,302.97 L497.15,302.97 L497.27,302.98 L497.38,302.98 L497.49,302.98 L497.60,302.98 L497.71,302.98 L497.82,302.98 L497.93,302.99 L498.04,302.99 L498.15,302.99 L498.26,302.99 L498.37,302.99 L498.48,302.99 L498.59,302.99 L498.70,303.00 L498.81,303.00 L498.92,303.00 L499.03,303.00 L499.14,303.00 L499.25,303.00 L499.36,303.00 L499.46,303.01 L499.57,303.01 L499.68,303.01 L499.79,303.01 L499.90,303.01 L500.00,303.01 L500.11,303.02 L500.22,303.02 L500.33,303.02 L500.43,303.02 L500.54,303.02 L500.65,303.02 L500.75,303.02 L500.86,303.03 L500.96,303.03 L501.07,303.03 L501.18,303.03 L501.28,303.03 L501.39,303.03 L501.49,303.03 L501.60,303.03 L501.70,303.04 L501.81,303.04 L501.91,303.04 L502.02,303.04 L502.12,303.04 L502.22,303.04 L502.33,303.04 L502.43,303.05 L502.54,303.05 L502.64,303.05 L502.74,303.05 L502.85,303.05 L502.95,303.05 L503.05,303.05 L503.15,303.06 L503.26,303.06 L503.36,303.06 L503.46,303.06 L503.56,303.06 L503.67,303.06 L503.77,303.06 L503.87,303.06 L503.97,303.07 L504.07,303.07 L504.17,303.07 L504.28,303.07 L504.38,303.07 L504.48,303.07 L504.58,303.07 L504.68,303.07 L504.78,303.08 L504.88,303.08 L504.98,303.08 L505.08,303.08 L505.18,303.08 L505.28,303.08 L505.38,303.08 L505.48,303.08 L505.58,303.09 L505.68,303.09 L505.78,303.09 L505.87,303.09 L505.97,303.09 L506.07,303.09 L506.17,303.09 L506.27,303.09 L506.37,303.10 L506.47,303.10 L506.56,303.10 L506.66,303.10 L506.76,303.10 L506.86,303.10 L506.95,303.10 L507.05,303.10 L507.15,303.11 L507.24,303.11 L507.34,303.11 L507.44,303.11 L507.53,303.11 L507.63,303.11 L507.73,303.11 L507.82,303.11 L507.92,303.11 L508.02,303.12 L508.11,303.12 L508.21,303.12 L508.30,303.12 L508.40,303.12 L508.49,303.12 L508.59,303.12 L508.68,303.12 L508.78,303.13 L508.87,303.13 L508.97,303.13 L509.06,303.13 L509.16,303.13 L509.25,303.13 L509.35,303.13 L509.44,303.13 L509.53,303.13 L509.63,303.14 L509.72,303.14 L509.81,303.14 L509.91,303.14 L510.00,303.14 L510.09,303.14 L510.19,303.14 L510.28,303.14 L510.37,303.14 L510.46,303.14 L510.56,303.15 L510.65,303.15 L510.74,303.15 L510.83,303.15 L510.93,303.15 L511.02,303.15 L511.11,303.15 L511.20,303.15 L511.29,303.15 L511.38,303.16 L511.48,303.16 L511.57,303.16 L511.66,303.16 L511.75,303.16 L511.84,303.16 L511.93,303.16 L512.02,303.16 L512.11,303.16 L512.20,303.16 L512.29,303.17 L512.38,303.17 L512.47,303.17 L512.56,303.17 L512.65,303.17 L512.74,303.17 L512.83,303.17 L512.92,303.17 L513.01,303.17 L513.10,303.17 L513.19,303.18 L513.28,303.18 L513.37,303.18 L513.46,303.18 L513.54,303.18 L513.63,303.18 L513.72,303.18 L513.81,303.18 L513.90,303.18 L513.99,303.18 L514.07,303.19 L514.16,303.19 L514.25,303.19 L514.34,303.19 L514.42,303.19 L514.51,303.19 L514.60,303.19 L514.69,303.19 L514.77,303.19 L514.86,303.19 L514.95,303.20 L515.03,303.20 L515.12,303.20 L515.21,303.20 L515.29,303.20 L515.38,303.20 L515.47,303.20 L515.55,303.20 L515.64,303.20 L515.72,303.20 L515.81,303.20 L515.90,303.21 L515.98,303.21 L516.07,303.21 L516.15,303.21 L516.24,303.21 L516.32,303.21 L516.41,303.21 L516.49,303.21 L516.58,303.21 L516.66,303.21 L516.75,303.21 L516.83,303.22 L516.92,303.22 L517.00,303.22 L517.09,303.22 L517.17,303.22 L517.25,303.22 L517.34,303.22 L517.42,303.22 L517.51,303.22 L517.59,303.22 L517.67,303.22 L517.76,303.23 L517.84,303.23 L517.92,303.23 L518.01,303.23 L518.09,303.23 L518.17,303.23 L518.26,303.23 L518.34,303.23 L518.42,303.23 L518.50,303.23 L518.59,303.23 L518.67,303.23 L518.75,303.24 L518.83,303.24 L518.91,303.24 L519.00,303.24 L519.08,303.24 L519.16,303.24 L519.24,303.24 L519.32,303.24 L519.41,303.24 L519.49,303.24 L519.57,303.24 L519.65,303.24 L519.73,303.25 L519.81,303.25 L519.89,303.25 L519.97,303.25 L520.05,303.25 L520.14,303.25 L520.22,303.25 L520.30,303.25 L520.38,303.25 L520.46,303.25 L520.54,303.25 L520.62,303.25 L520.70,303.26 L520.78,303.26 L520.86,303.26 L520.94,303.26 L521.02,303.26 L521.10,303.26 L521.18,303.26 L521.26,303.26 L521.34,303.26 L521.41,303.26 L521.49,303.26 L521.57,303.26 L521.65,303.26 L521.73,303.27 L521.81,303.27 L521.89,303.27 L521.97,303.27 L522.05,303.27 L522.12,303.27 L522.20,303.27 L522.28,303.27 L522.36,303.27 L522.44,303.27 L522.51,303.27 L522.59,303.27 L522.67,303.27 L522.75,303.28 L522.83,303.28 L522.90,303.28 L522.98,303.28 L523.06,303.28 L523.14,303.28 L523.21,303.28 L523.29,303.28 L523.37,303.28 L523.44,303.28 L523.52,303.28 L523.60,303.28 L523.67,303.28 L523.75,303.29 L523.83,303.29 L523.90,303.29 L523.98,303.29 L524.06,303.29 L524.13,303.29 L524.21,303.29 L524.29,303.29 L524.36,303.29 L524.44,303.29 L524.51,303.29 L524.59,303.29 L524.66,303.29 L524.74,303.29 L524.82,303.30 L524.89,303.30 L524.97,303.30 L525.04,303.30 L525.12,303.30 L525.19,303.30 L525.27,303.30 L525.34,303.30 L525.42,303.30 L525.49,303.30 L525.57,303.30 L525.64,303.30 L525.72,303.30 L525.79,303.30 L525.86,303.31 L525.94,303.31 L526.01,303.31 L526.09,303.31 L526.16,303.31 L526.24,303.31 L526.31,303.31 L526.38,303.31 L526.46,303.31 L526.53,303.31 L526.60,303.31 L526.68,303.31 L526.75,303.31 L526.82,303.31 L526.90,303.31 L526.97,303.32 L527.04,303.32 L527.12,303.32 L527.19,303.32 L527.26,303.32 L527.34,303.32 L527.41,303.32 L527.48,303.32 L527.55,303.32 L527.63,303.32 L527.70,303.32 L527.77,303.32 L527.84,303.32 L527.92,303.32 L527.99,303.32 L528.06,303.33 L528.13,303.33 L528.20,303.33 L528.28,303.33 L528.35,303.33 L528.42,303.33 L528.49,303.33 L528.56,303.33 L528.63,303.33 L528.71,303.33 L528.78,303.33 L528.85,303.33 L528.92,303.33 L528.99,303.33 L529.06,303.33 L529.13,303.33 L529.20,303.34 L529.28,303.34 L529.35,303.34 L529.42,303.34 L529.49,303.34 L529.56,303.34 L529.63,303.34 L529.70,303.34 L529.77,303.34 L529.84,303.34 L529.84,303.70 L368.00,303.30 L337.00,303.00 L318.40,302.70 L305.90,302.00 L294.60,299.10 L280.80,297.20 L268.90,295.00 L249.50,280.60 L239.30,276.73 L224.71,259.28 L219.09,259.28 L212.98,259.28 L206.28,250.35 L198.88,236.95 L190.60,245.32 L170.39,222.06 L157.58,236.95 L141.90,220.20 L121.69,236.95 L93.20,303.95Z"/></clipPath>
<g><path d="M93.62,-280.69 L823.88,354.11 M90.56,-277.17 L820.82,357.63 M87.51,-273.66 L817.76,361.14 M84.45,-270.14 L814.70,364.66 M81.39,-266.62 L811.65,368.18 M78.33,-263.11 L808.59,371.70 M75.28,-259.59 L805.53,375.21 M72.22,-256.07 L802.47,378.73 M69.16,-252.55 L799.42,382.25 M66.11,-249.04 L796.36,385.76 M63.05,-245.52 L793.30,389.28 M59.99,-242.00 L790.25,392.80 M56.93,-238.49 L787.19,396.31 M53.88,-234.97 L784.13,399.83 M50.82,-231.45 L781.07,403.35 M47.76,-227.94 L778.02,406.87 M44.70,-224.42 L774.96,410.38 M41.65,-220.90 L771.90,413.90 M38.59,-217.38 L768.85,417.42 M35.53,-213.87 L765.79,420.93 M32.48,-210.35 L762.73,424.45 M29.42,-206.83 L759.67,427.97 M26.36,-203.32 L756.62,431.48 M23.30,-199.80 L753.56,435.00 M20.25,-196.28 L750.50,438.52 M17.19,-192.77 L747.44,442.03 M14.13,-189.25 L744.39,445.55 M11.08,-185.73 L741.33,449.07 M8.02,-182.22 L738.27,452.59 M4.96,-178.70 L735.22,456.10 M1.90,-175.18 L732.16,459.62 M-1.15,-171.66 L729.10,463.14 M-4.21,-168.15 L726.04,466.65 M-7.27,-164.63 L722.99,470.17 M-10.33,-161.11 L719.93,473.69 M-13.38,-157.60 L716.87,477.20 M-16.44,-154.08 L713.82,480.72 M-19.50,-150.56 L710.76,484.24 M-22.55,-147.05 L707.70,487.76 M-25.61,-143.53 L704.64,491.27 M-28.67,-140.01 L701.59,494.79 M-31.73,-136.50 L698.53,498.31 M-34.78,-132.98 L695.47,501.82 M-37.84,-129.46 L692.41,505.34 M-40.90,-125.94 L689.36,508.86 M-43.95,-122.43 L686.30,512.37 M-47.01,-118.91 L683.24,515.89 M-50.07,-115.39 L680.19,519.41 M-53.13,-111.88 L677.13,522.92 M-56.18,-108.36 L674.07,526.44 M-59.24,-104.84 L671.01,529.96 M-62.30,-101.33 L667.96,533.48 M-65.36,-97.81 L664.90,536.99 M-68.41,-94.29 L661.84,540.51 M-71.47,-90.77 L658.78,544.03 M-74.53,-87.26 L655.73,547.54 M-77.58,-83.74 L652.67,551.06 M-80.64,-80.22 L649.61,554.58 M-83.70,-76.71 L646.56,558.09 M-86.76,-73.19 L643.50,561.61 M-89.81,-69.67 L640.44,565.13 M-92.87,-66.16 L637.38,568.64 M-95.93,-62.64 L634.33,572.16 M-98.99,-59.12 L631.27,575.68 M-102.04,-55.61 L628.21,579.20 M-105.10,-52.09 L625.16,582.71 M-108.16,-48.57 L622.10,586.23 M-111.21,-45.05 L619.04,589.75 M-114.27,-41.54 L615.98,593.26 M-117.33,-38.02 L612.93,596.78 M-120.39,-34.50 L609.87,600.30 M-123.44,-30.99 L606.81,603.81 M-126.50,-27.47 L603.75,607.33 M-129.56,-23.95 L600.70,610.85 M-132.61,-20.44 L597.64,614.37 M-135.67,-16.92 L594.58,617.88 M-138.73,-13.40 L591.53,621.40 M-141.79,-9.89 L588.47,624.92 M-144.84,-6.37 L585.41,628.43 M-147.90,-2.85 L582.35,631.95 M-150.96,0.67 L579.30,635.47 M-154.02,4.18 L576.24,638.98 M-157.07,7.70 L573.18,642.50 M-160.13,11.22 L570.13,646.02 M-163.19,14.73 L567.07,649.53 M-166.24,18.25 L564.01,653.05 M-169.30,21.77 L560.95,656.57 M-172.36,25.28 L557.90,660.09 M-175.42,28.80 L554.84,663.60 M-178.47,32.32 L551.78,667.12 M-181.53,35.84 L548.72,670.64 M-184.59,39.35 L545.67,674.15 M-187.65,42.87 L542.61,677.67 M-190.70,46.39 L539.55,681.19 M-193.76,49.90 L536.50,684.70 M-196.82,53.42 L533.44,688.22 M-199.87,56.94 L530.38,691.74" clip-path="url(#cr)" stroke="#ff8a8a" stroke-width="1.80" fill="none"/></g>
<path d="M211.6,152.9L214.0,150.8M203.4,159.8L211.7,152.2M211.6,159.8L215.7,156.0M195.2,166.6L203.5,159.1M203.4,166.6L211.7,159.1M211.6,166.6L217.5,161.3M178.8,173.5L184.1,168.7M187.0,173.5L195.3,165.9M195.2,173.5L203.5,165.9M203.4,173.5L211.7,165.9M211.6,173.5L219.2,166.6M219.8,173.5L221.5,171.9M178.8,180.3L187.1,172.8M187.0,180.3L195.3,172.8M195.2,180.3L203.5,172.8M203.4,180.3L211.7,172.8M211.6,180.3L219.9,172.8M219.8,180.3L223.6,176.9M170.6,187.2L178.9,179.6M178.8,187.2L187.1,179.6M187.0,187.2L195.3,179.6M195.2,187.2L203.5,179.6M203.4,187.2L211.7,179.6M211.6,187.2L219.9,179.6M219.8,187.2L225.6,181.9M162.4,194.0L170.7,186.5M170.6,194.0L178.9,186.5M178.8,194.0L187.1,186.5M187.0,194.0L195.3,186.5M195.2,194.0L203.5,186.5M203.4,194.0L211.7,186.5M211.6,194.0L219.9,186.5M219.8,194.0L227.6,187.0M228.0,194.0L229.7,192.5M154.2,200.9L162.5,193.3M162.4,200.9L170.7,193.3M170.6,200.9L178.9,193.3M178.8,200.9L187.1,193.3M187.0,200.9L195.3,193.3M195.2,200.9L203.5,193.3M203.4,200.9L211.7,193.3M211.6,200.9L219.9,193.3M219.8,200.9L228.1,193.3M228.0,200.9L231.9,197.4M151.9,202.4L154.3,200.2M154.2,207.8L162.5,200.2M162.4,207.8L170.7,200.2M170.6,207.8L178.9,200.2M178.8,207.8L187.1,200.2M187.0,207.8L195.3,200.2M195.2,207.8L203.5,200.2M203.4,207.8L211.7,200.2M211.6,207.8L219.9,200.2M219.8,207.8L228.1,200.2M228.0,207.8L234.2,202.2M236.2,207.8L236.5,207.5M146.0,214.6L154.3,207.0M154.2,214.6L162.5,207.0M162.4,214.6L170.7,207.0M170.6,214.6L178.9,207.0M178.8,214.6L187.1,207.0M187.0,214.6L195.3,207.0M195.2,214.6L203.5,207.0M203.4,214.6L211.7,207.0M211.6,214.6L219.9,207.0M219.8,214.6L228.1,207.0M228.0,214.6L236.3,207.0M236.2,214.6L238.6,212.4M144.8,215.1L146.1,213.9M146.0,221.4L154.3,213.9M154.2,221.4L162.5,213.9M162.4,221.4L170.7,213.9M170.6,221.4L178.9,213.9M178.8,221.4L187.1,213.9M187.0,221.4L195.3,213.9M195.2,221.4L203.5,213.9M203.4,221.4L211.7,213.9M211.6,221.4L219.9,213.9M219.8,221.4L228.1,213.9M228.0,221.4L236.3,213.9M236.2,221.4L241.0,217.1M144.1,222.6L146.1,220.7M147.9,226.6L154.3,220.7M154.2,228.3L162.5,220.7M162.4,228.3L170.7,220.7M173.5,225.7L178.9,220.7M178.8,228.3L187.1,220.7M187.0,228.3L195.3,220.7M195.2,228.3L203.5,220.7M203.4,228.3L211.7,220.7M211.6,228.3L219.9,220.7M219.8,228.3L228.1,220.7M228.0,228.3L236.3,220.7M236.2,228.3L243.4,221.7M244.4,228.3L245.9,226.9M151.3,230.3L154.3,227.6M155.1,234.3L162.5,227.6M176.8,229.5L178.9,227.6M180.5,233.6L187.1,227.6M187.0,235.1L195.3,227.6M195.2,235.1L203.5,227.6M203.4,235.1L211.7,227.6M211.6,235.1L219.9,227.6M219.8,235.1L228.1,227.6M228.0,235.1L236.3,227.6M236.2,235.1L244.5,227.6M244.4,235.1L248.3,231.6M183.8,237.5L187.1,234.4M187.4,241.6L195.3,234.4M199.5,238.1L203.5,234.4M203.4,242.0L211.7,234.4M211.6,242.0L219.9,234.4M219.8,242.0L228.1,234.4M228.0,242.0L236.3,234.4M236.2,242.0L244.5,234.4M244.4,242.0L250.9,236.1M252.6,242.0L253.6,241.1M202.0,242.6L203.5,241.3M204.8,247.6L211.7,241.3M211.6,248.8L219.9,241.3M219.8,248.8L228.1,241.3M228.0,248.8L236.3,241.3M236.2,248.8L244.5,241.3M244.4,248.8L252.7,241.3M252.6,248.8L256.2,245.6M207.5,252.0L211.7,248.1M211.6,255.7L219.9,248.1M219.8,255.7L228.1,248.1M228.0,255.7L236.3,248.1M236.2,255.7L244.5,248.1M244.4,255.7L252.7,248.1M252.6,255.7L259.0,249.9M260.8,255.7L262.2,254.4M210.5,256.0L211.7,255.0M215.2,259.3L219.9,255.0M223.4,259.3L228.1,255.0M228.0,262.6L236.3,255.0M236.2,262.6L244.5,255.0M244.4,262.6L252.7,255.0M252.6,262.6L260.9,255.0M260.8,262.6L265.5,258.3M269.0,262.6L269.2,262.3M227.4,262.5L228.1,261.8M230.9,266.7L236.3,261.8M236.2,269.4L244.5,261.8M244.4,269.4L252.7,261.8M252.6,269.4L260.9,261.8M260.8,269.4L268.9,262.0M269.0,269.4L272.9,265.8M277.2,269.4L277.2,269.4M234.2,270.6L236.3,268.7M237.7,274.9L244.5,268.7M244.4,276.2L252.7,268.7M252.6,276.2L260.9,268.7M260.8,276.2L269.1,268.7M269.0,276.2L276.9,269.1M277.2,276.2L281.4,272.4M285.4,276.2L286.2,275.5M242.1,277.8L244.5,275.5M247.8,280.0L252.7,275.5M252.7,283.0L260.9,275.5M260.8,283.1L269.1,275.5M269.0,283.1L277.3,275.5M277.2,283.1L285.5,275.5M285.4,283.1L290.9,278.1M293.6,283.1L296.2,280.7M252.4,282.7L252.7,282.4M256.9,286.1L260.9,282.4M261.4,289.4L269.1,282.4M269.0,289.9L277.3,282.4M277.2,289.9L285.5,282.4M285.4,289.9L293.7,282.4M293.6,289.9L301.3,282.9M301.8,289.9L307.1,285.1M310.0,289.9L313.1,287.1M318.2,289.9L319.4,288.9M265.5,292.5L269.1,289.2M270.6,295.3L277.3,289.2M277.4,296.6L285.5,289.2M285.4,296.8L293.7,289.2M293.6,296.8L301.9,289.2M301.8,296.8L310.1,289.2M310.0,296.8L318.3,289.2M318.2,296.8L325.3,290.4M326.4,296.8L331.9,291.8M334.6,296.8L338.6,293.1M342.8,296.8L345.5,294.3M351.0,296.8L352.6,295.4M359.2,296.8L359.7,296.3M276.9,296.5L277.3,296.1M283.8,297.6L285.5,296.1M291.0,298.6L293.7,296.1M297.7,299.9L301.9,296.1M304.1,301.5L310.1,296.1M311.5,302.3L318.3,296.1M319.2,302.7L326.5,296.1M327.3,302.8L334.7,296.1M335.3,303.0L342.9,296.1M343.4,303.1L351.1,296.1M351.6,303.1L359.2,296.2M359.7,303.2L366.4,297.1M367.8,303.3L373.8,297.8M376.0,303.3L381.3,298.5M384.1,303.3L388.8,299.1M392.3,303.4L396.4,299.6M400.5,303.4L404.1,300.1M408.7,303.4L411.8,300.5M416.9,303.4L419.6,300.9M425.0,303.4L427.4,301.2M433.2,303.5L435.3,301.5M441.4,303.5L443.2,301.8M449.6,303.5L451.2,302.0M457.7,303.5L459.1,302.3M465.9,303.5L467.1,302.4M474.1,303.6L475.1,302.6M482.3,303.6L483.2,302.8M490.5,303.6L491.2,302.9M498.6,303.6L499.3,303.0M506.8,303.6L507.4,303.1M515.0,303.6L515.5,303.2M523.2,303.6L523.6,303.3M334.7,303.0L334.7,302.9M342.8,303.1L342.9,302.9M350.9,303.1L351.1,302.9M359.0,303.2L359.3,302.9M367.1,303.3L367.5,302.9M375.3,303.3L375.7,302.9M383.5,303.3L383.9,302.9M391.6,303.4L392.1,302.9M399.8,303.4L400.3,302.9M408.0,303.4L408.5,302.9M416.2,303.4L416.7,302.9M424.4,303.4L424.9,302.9M432.5,303.5L433.1,302.9M440.7,303.5L441.3,302.9M448.9,303.5L449.5,302.9M457.1,303.5L457.7,302.9M465.2,303.5L465.9,302.9M473.4,303.6L474.1,302.9M481.6,303.6L482.3,302.9M489.8,303.6L490.5,302.9M498.0,303.6L498.6,303.0M506.1,303.6L506.7,303.1M514.3,303.7L514.8,303.2M522.5,303.7L522.9,303.3" stroke="#000" stroke-width="2.00" fill="none"/>
<path d="M93.20,303.95 L121.69,236.95 L141.90,220.20 L157.58,192.28 L170.39,184.84 L181.22,169.95 L190.60,165.76 L198.88,156.55 L206.28,153.87 L212.98,147.62 L219.09,145.76 L224.71,141.24 L229.92,139.87 L234.77,136.45 L239.30,135.40 L243.56,132.73 L247.58,131.90 L251.38,129.75 L254.98,129.08 L258.41,127.31 L261.68,126.76 L264.80,125.28 L267.79,124.82 L270.66,123.57 L273.41,123.17 L276.07,122.09 L278.62,121.75 L281.09,120.82 L283.47,120.52 L285.77,119.70 L288.00,119.44 L290.16,118.71 L292.26,118.48 L294.30,117.84 L296.28,117.63 L298.20,117.06 L300.08,116.87 L301.90,116.35 L303.68,116.18 L305.42,115.71 L307.11,115.56 L308.76,115.13 L310.38,114.99 L311.96,114.60 L313.50,114.48 L315.01,114.12 L316.49,114.00 L317.94,113.67 L319.36,113.56 L320.75,113.26 L322.11,113.16 L323.45,112.88 L324.77,112.78 L326.06,112.52 L327.32,112.44 L328.56,112.19 L329.79,112.11 L330.99,111.88 L332.17,111.81 L333.33,111.60 L334.47,111.53 L335.60,111.32 L336.70,111.26 L337.79,111.07 L338.87,111.01 L339.92,110.83 L340.96,110.77 L341.99,110.61 L343.00,110.55 L344.00,110.39 L344.98,110.34 L345.95,110.19 L346.90,110.14 L347.85,110.00 L348.78,109.96 L349.70,109.82 L350.60,109.78 L351.50,109.65 L352.38,109.61 L353.25,109.49 L354.12,109.45 L354.97,109.33 L355.81,109.29 L356.64,109.18 L357.46,109.15 L358.27,109.04 L359.08,109.01 L359.87,108.91 L360.66,108.87 L361.43,108.78 L362.20,108.74 L362.96,108.65 L363.71,108.62 L364.46,108.53 L365.19,108.50 L365.92,108.42 L366.64,108.39 L367.35,108.31 L368.06,108.28 L368.76,108.20 L369.45,108.18 L370.14,108.10 L370.82,108.08 L371.49,108.01 L372.15,107.98 L372.81,107.91 L373.47,107.89 L374.11,107.82 L374.76,107.80 L375.39,107.74 L376.02,107.71 L376.65,107.65 L377.27,107.63 L377.88,107.57 L378.49,107.55 L379.09,107.49 L379.69,107.47 L380.28,107.42 L380.87,107.40 L381.45,107.34 L382.03,107.33 L382.60,107.27 L383.17,107.26 L383.74,107.20 L384.30,107.19 L384.85,107.14 L385.40,107.12 L385.95,107.07 L386.49,107.06 L387.03,107.01 L387.57,107.00 L388.10,106.95 L388.62,106.94 L389.14,106.89 L389.66,106.88 L390.18,106.83 L390.69,106.82 L391.20,106.78 L391.70,106.76 L392.20,106.72 L392.70,106.71 L393.19,106.67 L393.68,106.66 L394.17,106.62 L394.65,106.61 L395.13,106.57 L395.60,106.56 L396.08,106.52 L396.55,106.51 L397.01,106.48 L397.48,106.46 L397.94,106.43 L398.40,106.42 L398.85,106.39 L399.30,106.37 L399.75,106.34 L400.20,106.33 L400.64,106.30 L401.08,106.29 L401.52,106.26 L401.95,106.25 L402.39,106.22 L402.82,106.21 L403.24,106.18 L403.67,106.17 L404.09,106.14 L404.51,106.13 L404.93,106.10 L405.34,106.09 L405.75,106.07 L406.16,106.06 L406.57,106.03 L406.98,106.02 L407.38,106.00 L407.78,105.99 L408.18,105.96 L408.57,105.95 L408.97,105.93 L409.36,105.92 L409.75,105.90 L410.13,105.89 L410.52,105.86 L410.90,105.86 L411.28,105.83 L411.66,105.82 L412.04,105.80 L412.41,105.79 L412.79,105.77 L413.16,105.76 L413.52,105.74 L413.89,105.73 L414.26,105.71 L414.62,105.71 L414.98,105.68 L415.34,105.68 L415.70,105.66 L416.05,105.65 L416.41,105.63 L416.76,105.62 L417.11,105.60 L417.46,105.60 L417.81,105.58 L418.15,105.57 L418.49,105.55 L418.84,105.55 L419.18,105.53 L419.52,105.52 L419.85,105.50 L420.19,105.50 L420.52,105.48 L420.85,105.47 L421.18,105.45 L421.51,105.45 L421.84,105.43 L422.17,105.43 L422.49,105.41 L422.81,105.40 L423.14,105.39 L423.46,105.38 L423.78,105.36 L424.09,105.36 L424.41,105.34 L424.72,105.34 L425.04,105.32 L425.35,105.32 L425.66,105.30 L425.97,105.30 L426.27,105.28 L426.58,105.28 L426.88,105.26 L427.19,105.26 L427.49,105.24 L427.79,105.24 L428.09,105.22 L428.39,105.22 L428.69,105.20 L428.98,105.20 L429.28,105.18 L429.57,105.18 L429.86,105.16 L430.15,105.16 L430.44,105.15 L430.73,105.14 L431.02,105.13 L431.30,105.12 L431.59,105.11 L431.87,105.11 L432.16,105.09 L432.44,105.09 L432.72,105.08 L433.00,105.07 L433.28,105.06 L433.55,105.06 L433.83,105.04 L434.10,105.04 L434.38,105.03 L434.65,105.02 L434.92,105.01 L435.19,105.01 L435.46,105.00 L435.73,104.99 L436.00,104.98 L436.27,104.98 L436.53,104.97 L436.80,104.96 L437.06,104.95 L437.32,104.95 L437.58,104.94 L437.85,104.93 L438.11,104.92 L438.36,104.92 L438.62,104.91 L438.88,104.90 L439.13,104.89 L439.39,104.89 L439.64,104.88 L439.90,104.87 L440.15,104.86 L440.40,104.86 L440.65,104.85 L440.90,104.85 L441.15,104.84 L441.40,104.83 L441.64,104.82 L441.89,104.82 L442.14,104.81 L442.38,104.81 L442.62,104.80 L442.87,104.80 L443.11,104.79 L443.35,104.78 L443.59,104.77 L443.83,104.77 L444.07,104.76 L444.30,104.76 L444.54,104.75 L444.78,104.75 L445.01,104.74 L445.25,104.73 L445.48,104.72 L445.71,104.72 L445.95,104.71 L446.18,104.71 L446.41,104.70 L446.64,104.70 L446.87,104.69 L447.10,104.69 L447.32,104.68 L447.55,104.68 L447.78,104.67 L448.00,104.67 L448.23,104.66 L448.45,104.65 L448.68,104.65 L448.90,104.64 L449.12,104.64 L449.34,104.63 L449.56,104.62 L449.78,104.62 L450.00,104.61 L450.22,104.61 L450.44,104.60 L450.66,104.60 L450.87,104.59 L451.09,104.59 L451.30,104.58 L451.52,104.58 L451.73,104.57 L451.94,104.57 L452.16,104.56 L452.37,104.56 L452.58,104.55 L452.79,104.55 L453.00,104.55 L453.21,104.54 L453.42,104.54 L453.63,104.53 L453.84,104.53 L454.04,104.52 L454.25,104.52 L454.45,104.51 L454.66,104.51 L454.86,104.51 L455.07,104.50 L455.27,104.50 L455.47,104.49 L455.68,104.49 L455.88,104.48 L456.08,104.48 L456.28,104.47 L456.48,104.47 L456.68,104.46 L456.88,104.46 L457.08,104.46 L457.27,104.45 L457.47,104.45 L457.67,104.45 L457.86,104.44 L458.06,104.44 L458.25,104.43 L458.45,104.43 L458.64,104.42 L458.83,104.42 L459.03,104.41 L459.22,104.41 L459.41,104.41 L459.60,104.40 L459.79,104.40 L459.98,104.40 L460.17,104.39 L460.36,104.39 L460.55,104.38 L460.74,104.38 L460.93,104.38 L461.11,104.37 L461.30,104.37 L461.49,104.37 L461.67,104.36 L461.86,104.36 L462.04,104.35 L462.23,104.35 L462.41,104.35 L462.59,104.34 L462.78,104.34 L462.96,104.34 L463.14,104.33 L463.32,104.33 L463.50,104.32 L463.68,104.32 L463.86,104.32 L464.04,104.32 L464.22,104.31 L464.40,104.31 L464.58,104.30 L464.75,104.30 L464.93,104.30 L465.11,104.30 L465.28,104.29 L465.46,104.29 L465.64,104.28 L465.81,104.28 L465.99,104.28 L466.16,104.28 L466.33,104.27 L466.51,104.27 L466.68,104.26 L466.85,104.26 L467.02,104.26 L467.20,104.26 L467.37,104.25 L467.54,104.25 L467.71,104.24 L467.88,104.24 L468.05,104.24 L468.22,104.24 L468.38,104.23 L468.55,104.23 L468.72,104.23 L468.89,104.22 L469.06,104.22 L469.22,104.22 L469.39,104.21 L469.55,104.21 L469.72,104.21 L469.89,104.21 L470.05,104.20 L470.21,104.20 L470.38,104.20 L470.54,104.20 L470.71,104.19 L470.87,104.19 L471.03,104.19 L471.19,104.18 L471.35,104.18 L471.52,104.18 L471.68,104.17 L471.84,104.17 L472.00,104.17 L472.16,104.17 L472.32,104.16 L472.48,104.16 L472.63,104.16 L472.79,104.16 L472.95,104.15 L473.11,104.15 L473.27,104.15 L473.42,104.15 L473.58,104.14 L473.74,104.14 L473.89,104.14 L474.05,104.13 L474.20,104.13 L474.36,104.13 L474.51,104.13 L474.67,104.12 L474.82,104.12 L474.97,104.12 L475.13,104.12 L475.28,104.11 L475.43,104.11 L475.59,104.11 L475.74,104.11 L475.89,104.10 L476.04,104.10 L476.19,104.10 L476.34,104.10 L476.49,104.09 L476.64,104.09 L476.79,104.09 L476.94,104.09 L477.09,104.08 L477.24,104.08 L477.39,104.08 L477.53,104.08 L477.68,104.07 L477.83,104.07 L477.98,104.07 L478.12,104.07 L478.27,104.07 L478.42,104.06 L478.56,104.06 L478.71,104.06 L478.85,104.06 L479.00,104.05 L479.14,104.05 L479.29,104.05 L479.43,104.05 L479.58,104.04 L479.72,104.04 L479.86,104.04 L480.01,104.04 L480.15,104.04 L480.29,104.03 L480.43,104.03 L480.57,104.03 L480.72,104.03 L480.86,104.03 L481.00,104.02 L481.14,104.02 L481.28,104.02 L481.42,104.02 L481.56,104.01 L481.70,104.01 L481.84,104.01 L481.98,104.01 L482.12,104.01 L482.25,104.00 L482.39,104.00 L482.53,104.00 L482.67,104.00 L482.81,104.00 L482.94,103.99 L483.08,103.99 L483.22,103.99 L483.35,103.99 L483.49,103.98 L483.62,103.98 L483.76,103.98 L483.89,103.98 L484.03,103.98 L484.16,103.98 L484.30,103.97 L484.43,103.97 L484.57,103.97 L484.70,103.97 L484.83,103.97 L484.97,103.96 L485.10,103.96 L485.23,103.96 L485.37,103.96 L485.50,103.96 L485.63,103.95 L485.76,103.95 L485.89,103.95 L486.02,103.95 L486.15,103.95 L486.29,103.95 L486.42,103.94 L486.55,103.94 L486.68,103.94 L486.81,103.94 L486.94,103.94 L487.06,103.93 L487.19,103.93 L487.32,103.93 L487.45,103.93 L487.58,103.93 L487.71,103.92 L487.84,103.92 L487.96,103.92 L488.09,103.92 L488.22,103.92 L488.34,103.92 L488.47,103.91 L488.60,103.91 L488.72,103.91 L488.85,103.91 L488.98,103.91 L489.10,103.91 L489.23,103.90 L489.35,103.90 L489.48,103.90 L489.60,103.90 L489.73,103.90 L489.85,103.90 L489.97,103.89 L490.10,103.89 L490.22,103.89 L490.34,103.89 L490.47,103.89 L490.59,103.89 L490.71,103.88 L490.84,103.88 L490.96,103.88 L491.08,103.88 L491.20,103.88 L491.32,103.88 L491.45,103.87 L491.57,103.87 L491.69,103.87 L491.81,103.87 L491.93,103.87 L492.05,103.87 L492.17,103.86 L492.29,103.86 L492.41,103.86 L492.53,103.86 L492.65,103.86 L492.77,103.86 L492.89,103.86 L493.01,103.85 L493.12,103.85 L493.24,103.85 L493.36,103.85 L493.48,103.85 L493.60,103.85 L493.71,103.85 L493.83,103.84 L493.95,103.84 L494.07,103.84 L494.18,103.84 L494.30,103.84 L494.42,103.84 L494.53,103.83 L494.65,103.83 L494.76,103.83 L494.88,103.83 L494.99,103.83 L495.11,103.83 L495.23,103.83 L495.34,103.83 L495.45,103.82 L495.57,103.82 L495.68,103.82 L495.80,103.82 L495.91,103.82 L496.03,103.82 L496.14,103.81 L496.25,103.81 L496.37,103.81 L496.48,103.81 L496.59,103.81 L496.70,103.81 L496.82,103.81 L496.93,103.81 L497.04,103.80 L497.15,103.80 L497.27,103.80 L497.38,103.80 L497.49,103.80 L497.60,103.80 L497.71,103.80 L497.82,103.79 L497.93,103.79 L498.04,103.79 L498.15,103.79 L498.26,103.79 L498.37,103.79 L498.48,103.79 L498.59,103.78 L498.70,103.78 L498.81,103.78 L498.92,103.78 L499.03,103.78 L499.14,103.78 L499.25,103.78 L499.36,103.78 L499.46,103.77 L499.57,103.77 L499.68,103.77 L499.79,103.77 L499.90,103.77 L500.00,103.77 L500.11,103.77 L500.22,103.77 L500.33,103.76 L500.43,103.76 L500.54,103.76 L500.65,103.76 L500.75,103.76 L500.86,103.76 L500.96,103.76 L501.07,103.76 L501.18,103.75 L501.28,103.75 L501.39,103.75 L501.49,103.75 L501.60,103.75 L501.70,103.75 L501.81,103.75 L501.91,103.75 L502.02,103.75 L502.12,103.74 L502.22,103.74 L502.33,103.74 L502.43,103.74 L502.54,103.74 L502.64,103.74 L502.74,103.74 L502.85,103.74 L502.95,103.74 L503.05,103.73 L503.15,103.73 L503.26,103.73 L503.36,103.73 L503.46,103.73 L503.56,103.73 L503.67,103.73 L503.77,103.73 L503.87,103.72 L503.97,103.72 L504.07,103.72 L504.17,103.72 L504.28,103.72 L504.38,103.72 L504.48,103.72 L504.58,103.72 L504.68,103.72 L504.78,103.72 L504.88,103.71 L504.98,103.71 L505.08,103.71 L505.18,103.71 L505.28,103.71 L505.38,103.71 L505.48,103.71 L505.58,103.71 L505.68,103.70 L505.78,103.70 L505.87,103.70 L505.97,103.70 L506.07,103.70 L506.17,103.70 L506.27,103.70 L506.37,103.70 L506.47,103.70 L506.56,103.70 L506.66,103.69 L506.76,103.69 L506.86,103.69 L506.95,103.69 L507.05,103.69 L507.15,103.69 L507.24,103.69 L507.34,103.69 L507.44,103.69 L507.53,103.69 L507.63,103.68 L507.73,103.68 L507.82,103.68 L507.92,103.68 L508.02,103.68 L508.11,103.68 L508.21,103.68 L508.30,103.68 L508.40,103.68 L508.49,103.68 L508.59,103.67 L508.68,103.67 L508.78,103.67 L508.87,103.67 L508.97,103.67 L509.06,103.67 L509.16,103.67 L509.25,103.67 L509.35,103.67 L509.44,103.67 L509.53,103.66 L509.63,103.66 L509.72,103.66 L509.81,103.66 L509.91,103.66 L510.00,103.66 L510.09,103.66 L510.19,103.66 L510.28,103.66 L510.37,103.66 L510.46,103.66 L510.56,103.65 L510.65,103.65 L510.74,103.65 L510.83,103.65 L510.93,103.65 L511.02,103.65 L511.11,103.65 L511.20,103.65 L511.29,103.65 L511.38,103.65 L511.48,103.65 L511.57,103.64 L511.66,103.64 L511.75,103.64 L511.84,103.64 L511.93,103.64 L512.02,103.64 L512.11,103.64 L512.20,103.64 L512.29,103.64 L512.38,103.64 L512.47,103.64 L512.56,103.63 L512.65,103.63 L512.74,103.63 L512.83,103.63 L512.92,103.63 L513.01,103.63 L513.10,103.63 L513.19,103.63 L513.28,103.63 L513.37,103.63 L513.46,103.63 L513.54,103.63 L513.63,103.62 L513.72,103.62 L513.81,103.62 L513.90,103.62 L513.99,103.62 L514.07,103.62 L514.16,103.62 L514.25,103.62 L514.34,103.62 L514.42,103.62 L514.51,103.62 L514.60,103.62 L514.69,103.61 L514.77,103.61 L514.86,103.61 L514.95,103.61 L515.03,103.61 L515.12,103.61 L515.21,103.61 L515.29,103.61 L515.38,103.61 L515.47,103.61 L515.55,103.61 L515.64,103.61 L515.72,103.60 L515.81,103.60 L515.90,103.60 L515.98,103.60 L516.07,103.60 L516.15,103.60 L516.24,103.60 L516.32,103.60 L516.41,103.60 L516.49,103.60 L516.58,103.60 L516.66,103.60 L516.75,103.60 L516.83,103.59 L516.92,103.59 L517.00,103.59 L517.09,103.59 L517.17,103.59 L517.25,103.59 L517.34,103.59 L517.42,103.59 L517.51,103.59 L517.59,103.59 L517.67,103.59 L517.76,103.59 L517.84,103.59 L517.92,103.58 L518.01,103.58 L518.09,103.58 L518.17,103.58 L518.26,103.58 L518.34,103.58 L518.42,103.58 L518.50,103.58 L518.59,103.58 L518.67,103.58 L518.75,103.58 L518.83,103.58 L518.91,103.58 L519.00,103.57 L519.08,103.57 L519.16,103.57 L519.24,103.57 L519.32,103.57 L519.41,103.57 L519.49,103.57 L519.57,103.57 L519.65,103.57 L519.73,103.57 L519.81,103.57 L519.89,103.57 L519.97,103.57 L520.05,103.57 L520.14,103.56 L520.22,103.56 L520.30,103.56 L520.38,103.56 L520.46,103.56 L520.54,103.56 L520.62,103.56 L520.70,103.56 L520.78,103.56 L520.86,103.56 L520.94,103.56 L521.02,103.56 L521.10,103.56 L521.18,103.56 L521.26,103.55 L521.34,103.55 L521.41,103.55 L521.49,103.55 L521.57,103.55 L521.65,103.55 L521.73,103.55 L521.81,103.55 L521.89,103.55 L521.97,103.55 L522.05,103.55 L522.12,103.55 L522.20,103.55 L522.28,103.55 L522.36,103.55 L522.44,103.55 L522.51,103.54 L522.59,103.54 L522.67,103.54 L522.75,103.54 L522.83,103.54 L522.90,103.54 L522.98,103.54 L523.06,103.54 L523.14,103.54 L523.21,103.54 L523.29,103.54 L523.37,103.54 L523.44,103.54 L523.52,103.54 L523.60,103.54 L523.67,103.53 L523.75,103.53 L523.83,103.53 L523.90,103.53 L523.98,103.53 L524.06,103.53 L524.13,103.53 L524.21,103.53 L524.29,103.53 L524.36,103.53 L524.44,103.53 L524.51,103.53 L524.59,103.53 L524.66,103.53 L524.74,103.53 L524.82,103.53 L524.89,103.52 L524.97,103.52 L525.04,103.52 L525.12,103.52 L525.19,103.52 L525.27,103.52 L525.34,103.52 L525.42,103.52 L525.49,103.52 L525.57,103.52 L525.64,103.52 L525.72,103.52 L525.79,103.52 L525.86,103.52 L525.94,103.52 L526.01,103.52 L526.09,103.52 L526.16,103.51 L526.24,103.51 L526.31,103.51 L526.38,103.51 L526.46,103.51 L526.53,103.51 L526.60,103.51 L526.68,103.51 L526.75,103.51 L526.82,103.51 L526.90,103.51 L526.97,103.51 L527.04,103.51 L527.12,103.51 L527.19,103.51 L527.26,103.51 L527.34,103.50 L527.41,103.50 L527.48,103.50 L527.55,103.50 L527.63,103.50 L527.70,103.50 L527.77,103.50 L527.84,103.50 L527.92,103.50 L527.99,103.50 L528.06,103.50 L528.13,103.50 L528.20,103.50 L528.28,103.50 L528.35,103.50 L528.42,103.50 L528.49,103.50 L528.56,103.50 L528.63,103.49 L528.71,103.49 L528.78,103.49 L528.85,103.49 L528.92,103.49 L528.99,103.49 L529.06,103.49 L529.13,103.49 L529.20,103.49 L529.28,103.49 L529.35,103.49 L529.42,103.49 L529.49,103.49 L529.56,103.49 L529.63,103.49 L529.70,103.49 L529.77,103.49 L529.84,103.49" fill="none" stroke="#0000ff" stroke-width="2.4" stroke-linejoin="round"/>
<path d="M93.20,303.95 L121.69,236.95 L141.90,220.20 L157.58,192.28 L170.39,184.84 L181.22,169.95 L190.60,165.76 L198.88,156.55 L206.28,153.87 L212.98,147.62 L219.09,145.76 L224.71,141.24 L229.92,139.87 L234.77,136.45 L239.30,135.40 L243.56,132.73 L247.58,131.90 L251.38,129.75 L254.98,129.08 L258.41,127.31 L261.68,126.76 L264.80,125.28 L267.79,124.82 L270.66,123.57 L273.41,123.17 L276.07,122.09 L278.62,121.75 L281.09,120.82 L283.47,120.52 L285.77,119.70 L288.00,119.44 L290.16,118.71 L292.26,118.48 L294.30,117.84 L296.28,117.63 L298.20,117.06 L300.08,116.87 L301.90,116.35 L303.68,116.18 L305.42,115.71 L307.11,115.56 L308.76,115.13 L310.38,114.99 L311.96,114.60 L313.50,114.48 L315.01,114.12 L316.49,114.00 L317.94,113.67 L319.36,113.56 L320.75,113.26 L322.11,113.16 L323.45,112.88 L324.77,112.78 L326.06,112.52 L327.32,112.44 L328.56,112.19 L329.79,112.11 L330.99,111.88 L332.17,111.81 L333.33,111.60 L334.47,111.53 L335.60,111.32 L336.70,111.26 L337.79,111.07 L338.87,111.01 L339.92,110.83 L340.96,110.77 L341.99,110.61 L343.00,110.55 L344.00,110.39 L344.98,110.34 L345.95,110.19 L346.90,110.14 L347.85,110.00 L348.78,109.96 L349.70,109.82 L350.60,109.78 L351.50,109.65 L352.38,109.61 L353.25,109.49 L354.12,109.45 L354.97,109.33 L355.81,109.29 L356.64,109.18 L357.46,109.15 L358.27,109.04 L359.08,109.01 L359.87,108.91 L360.66,108.87 L361.43,108.78 L362.20,108.74 L362.96,108.65 L363.71,108.62 L364.46,108.53 L365.19,108.50 L365.92,108.42 L366.64,108.39 L367.35,108.31 L368.06,108.28 L368.76,108.20 L369.45,110.78 L370.14,113.26 L370.82,115.74 L371.49,118.12 L372.15,120.51 L372.81,122.80 L373.47,125.10 L374.11,127.31 L374.76,129.53 L375.39,131.66 L376.02,133.80 L376.65,135.86 L377.27,137.92 L377.88,139.92 L378.49,141.91 L379.09,143.83 L379.69,145.76 L380.28,147.62 L380.87,149.48 L381.45,151.28 L382.03,153.08 L382.60,154.82 L383.17,156.56 L383.74,158.25 L384.30,159.94 L384.85,161.57 L385.40,163.21 L385.95,164.80 L386.49,166.38 L387.03,167.92 L387.57,169.46 L388.10,170.95 L388.62,172.44 L389.14,173.89 L389.66,175.34 L390.18,176.75 L390.69,178.15 L391.20,179.52 L391.70,180.89 L392.20,182.22 L392.70,183.55 L393.19,184.84 L393.68,186.13 L394.17,187.39 L394.65,188.65 L395.13,189.87 L395.60,191.09 L396.08,192.28 L396.55,193.47 L397.01,194.63 L397.48,195.79 L397.94,196.92 L398.40,198.05 L398.85,199.16 L399.30,200.26 L399.75,201.33 L400.20,202.40 L400.64,203.45 L401.08,204.50 L401.52,205.52 L401.95,206.54 L402.39,207.54 L402.82,208.53 L403.24,209.50 L403.67,210.48 L404.09,211.43 L404.51,212.38 L404.93,213.30 L405.34,214.23 L405.75,215.14 L406.16,216.04 L406.57,216.93 L406.98,217.81 L407.38,218.68 L407.78,219.54 L408.18,220.39 L408.57,221.23 L408.97,222.06 L409.36,222.89 L409.75,223.70 L410.13,224.51 L410.52,225.30 L410.90,226.09 L411.28,226.86 L411.66,227.64 L412.04,228.40 L412.41,229.16 L412.79,229.90 L413.16,230.64 L413.52,231.37 L413.89,232.09 L414.26,232.81 L414.62,233.52 L414.98,234.22 L415.34,234.91 L415.70,235.60 L416.05,236.28 L416.41,236.95 L416.76,237.62 L417.11,238.28 L417.46,238.92 L417.81,239.55 L418.15,240.17 L418.49,240.78 L418.84,241.37 L419.18,241.96 L419.52,242.53 L419.85,243.10 L420.19,243.65 L420.52,244.19 L420.85,244.73 L421.18,245.25 L421.51,245.77 L421.84,246.27 L422.17,246.77 L422.49,247.26 L422.81,247.74 L423.14,248.21 L423.46,248.68 L423.78,249.13 L424.09,249.58 L424.41,250.02 L424.72,250.46 L425.04,250.89 L425.35,251.31 L425.66,251.72 L425.97,252.13 L426.27,252.53 L426.58,252.93 L426.88,253.32 L427.19,253.70 L427.49,254.08 L427.79,254.45 L428.09,254.82 L428.39,255.18 L428.69,255.53 L428.98,255.88 L429.28,256.23 L429.57,256.57 L429.86,256.91 L430.15,257.24 L430.44,257.57 L430.73,257.89 L431.02,258.21 L431.30,258.52 L431.59,258.83 L431.87,259.13 L432.16,259.43 L432.44,259.73 L432.72,260.02 L433.00,260.31 L433.28,260.60 L433.55,260.88 L433.83,261.16 L434.10,261.43 L434.38,261.70 L434.65,261.97 L434.92,262.23 L435.19,262.49 L435.46,262.75 L435.73,263.01 L436.00,263.26 L436.27,263.50 L436.53,263.75 L436.80,263.99 L437.06,264.23 L437.32,264.47 L437.58,264.70 L437.85,264.93 L438.11,265.16 L438.36,265.39 L438.62,265.61 L438.88,265.83 L439.13,266.05 L439.39,266.26 L439.64,266.48 L439.90,266.69 L440.15,266.89 L440.40,267.10 L440.65,267.30 L440.90,267.50 L441.15,267.70 L441.40,267.90 L441.64,268.10 L441.89,268.29 L442.14,268.48 L442.38,268.67 L442.62,268.85 L442.87,269.04 L443.11,269.22 L443.35,269.40 L443.59,269.58 L443.83,269.76 L444.07,269.93 L444.30,270.11 L444.54,270.28 L444.78,270.45 L445.01,270.62 L445.25,270.78 L445.48,270.95 L445.71,271.11 L445.95,271.28 L446.18,271.44 L446.41,271.59 L446.64,271.75 L446.87,271.91 L447.10,272.06 L447.32,272.21 L447.55,272.36 L447.78,272.51 L448.00,272.66 L448.23,272.81 L448.45,272.95 L448.68,273.10 L448.90,273.24 L449.12,273.38 L449.34,273.52 L449.56,273.66 L449.78,273.80 L450.00,273.94 L450.22,274.07 L450.44,274.21 L450.66,274.34 L450.87,274.47 L451.09,274.60 L451.30,274.73 L451.52,274.86 L451.73,274.98 L451.94,275.11 L452.16,275.24 L452.37,275.36 L452.58,275.48 L452.79,275.60 L453.00,275.72 L453.21,275.84 L453.42,275.96 L453.63,276.08 L453.84,276.20 L454.04,276.31 L454.25,276.43 L454.45,276.54 L454.66,276.65 L454.86,276.77 L455.07,276.88 L455.27,276.99 L455.47,277.10 L455.68,277.20 L455.88,277.31 L456.08,277.42 L456.28,277.52 L456.48,277.63 L456.68,277.73 L456.88,277.84 L457.08,277.94 L457.27,278.04 L457.47,278.14 L457.67,278.24 L457.86,278.34 L458.06,278.44 L458.25,278.54 L458.45,278.63 L458.64,278.73 L458.83,278.82 L459.03,278.92 L459.22,279.01 L459.41,279.11 L459.60,279.20 L459.79,279.29 L459.98,279.38 L460.17,279.47 L460.36,279.56 L460.55,279.65 L460.74,279.74 L460.93,279.83 L461.11,279.92 L461.30,280.00 L461.49,280.09 L461.67,280.18 L461.86,280.26 L462.04,280.35 L462.23,280.43 L462.41,280.51 L462.59,280.59 L462.78,280.68 L462.96,280.76 L463.14,280.84 L463.32,280.92 L463.50,281.00 L463.68,281.08 L463.86,281.16 L464.04,281.23 L464.22,281.31 L464.40,281.39 L464.58,281.47 L464.75,281.54 L464.93,281.62 L465.11,281.69 L465.28,281.77 L465.46,281.84 L465.64,281.91 L465.81,281.99 L465.99,282.06 L466.16,282.13 L466.33,282.20 L466.51,282.27 L466.68,282.34 L466.85,282.41 L467.02,282.48 L467.20,282.55 L467.37,282.62 L467.54,282.69 L467.71,282.76 L467.88,282.83 L468.05,282.89 L468.22,282.96 L468.38,283.03 L468.55,283.09 L468.72,283.16 L468.89,283.22 L469.06,283.29 L469.22,283.35 L469.39,283.41 L469.55,283.48 L469.72,283.54 L469.89,283.60 L470.05,283.67 L470.21,283.73 L470.38,283.79 L470.54,283.85 L470.71,283.91 L470.87,283.97 L471.03,284.03 L471.19,284.09 L471.35,284.15 L471.52,284.21 L471.68,284.27 L471.84,284.33 L472.00,284.38 L472.16,284.44 L472.32,284.50 L472.48,284.56 L472.63,284.61 L472.79,284.67 L472.95,284.72 L473.11,284.78 L473.27,284.83 L473.42,284.89 L473.58,284.94 L473.74,285.00 L473.89,285.05 L474.05,285.11 L474.20,285.16 L474.36,285.21 L474.51,285.27 L474.67,285.32 L474.82,285.37 L474.97,285.42 L475.13,285.47 L475.28,285.52 L475.43,285.58 L475.59,285.63 L475.74,285.68 L475.89,285.73 L476.04,285.78 L476.19,285.83 L476.34,285.88 L476.49,285.93 L476.64,285.97 L476.79,286.02 L476.94,286.07 L477.09,286.12 L477.24,286.17 L477.39,286.21 L477.53,286.26 L477.68,286.31 L477.83,286.36 L477.98,286.40 L478.12,286.45 L478.27,286.49 L478.42,286.54 L478.56,286.59 L478.71,286.63 L478.85,286.68 L479.00,286.72 L479.14,286.77 L479.29,286.81 L479.43,286.85 L479.58,286.90 L479.72,286.94 L479.86,286.99 L480.01,287.03 L480.15,287.07 L480.29,287.11 L480.43,287.16 L480.57,287.20 L480.72,287.24 L480.86,287.28 L481.00,287.33 L481.14,287.37 L481.28,287.41 L481.42,287.45 L481.56,287.49 L481.70,287.53 L481.84,287.57 L481.98,287.61 L482.12,287.65 L482.25,287.69 L482.39,287.73 L482.53,287.77 L482.67,287.81 L482.81,287.85 L482.94,287.89 L483.08,287.93 L483.22,287.97 L483.35,288.01 L483.49,288.04 L483.62,288.08 L483.76,288.12 L483.89,288.16 L484.03,288.19 L484.16,288.23 L484.30,288.27 L484.43,288.31 L484.57,288.34 L484.70,288.38 L484.83,288.42 L484.97,288.45 L485.10,288.49 L485.23,288.52 L485.37,288.56 L485.50,288.60 L485.63,288.63 L485.76,288.67 L485.89,288.70 L486.02,288.74 L486.15,288.77 L486.29,288.81 L486.42,288.84 L486.55,288.88 L486.68,288.91 L486.81,288.94 L486.94,288.98 L487.06,289.01 L487.19,289.04 L487.32,289.08 L487.45,289.11 L487.58,289.14 L487.71,289.18 L487.84,289.21 L487.96,289.24 L488.09,289.28 L488.22,289.31 L488.34,289.34 L488.47,289.37 L488.60,289.40 L488.72,289.44 L488.85,289.47 L488.98,289.50 L489.10,289.53 L489.23,289.56 L489.35,289.59 L489.48,289.62 L489.60,289.65 L489.73,289.69 L489.85,289.72 L489.97,289.75 L490.10,289.78 L490.22,289.81 L490.34,289.84 L490.47,289.87 L490.59,289.90 L490.71,289.93 L490.84,289.96 L490.96,289.99 L491.08,290.02 L491.20,290.04 L491.32,290.07 L491.45,290.10 L491.57,290.13 L491.69,290.16 L491.81,290.19 L491.93,290.22 L492.05,290.25 L492.17,290.27 L492.29,290.30 L492.41,290.33 L492.53,290.36 L492.65,290.39 L492.77,290.41 L492.89,290.44 L493.01,290.47 L493.12,290.50 L493.24,290.52 L493.36,290.55 L493.48,290.58 L493.60,290.60 L493.71,290.63 L493.83,290.66 L493.95,290.68 L494.07,290.71 L494.18,290.74 L494.30,290.76 L494.42,290.79 L494.53,290.82 L494.65,290.84 L494.76,290.87 L494.88,290.89 L494.99,290.92 L495.11,290.94 L495.23,290.97 L495.34,290.99 L495.45,291.02 L495.57,291.05 L495.68,291.07 L495.80,291.10 L495.91,291.12 L496.03,291.14 L496.14,291.17 L496.25,291.19 L496.37,291.22 L496.48,291.24 L496.59,291.27 L496.70,291.29 L496.82,291.32 L496.93,291.34 L497.04,291.36 L497.15,291.39 L497.27,291.41 L497.38,291.43 L497.49,291.46 L497.60,291.48 L497.71,291.51 L497.82,291.53 L497.93,291.55 L498.04,291.57 L498.15,291.60 L498.26,291.62 L498.37,291.64 L498.48,291.67 L498.59,291.69 L498.70,291.71 L498.81,291.73 L498.92,291.76 L499.03,291.78 L499.14,291.80 L499.25,291.82 L499.36,291.85 L499.46,291.87 L499.57,291.89 L499.68,291.91 L499.79,291.93 L499.90,291.96 L500.00,291.98 L500.11,292.00 L500.22,292.02 L500.33,292.04 L500.43,292.06 L500.54,292.08 L500.65,292.11 L500.75,292.13 L500.86,292.15 L500.96,292.17 L501.07,292.19 L501.18,292.21 L501.28,292.23 L501.39,292.25 L501.49,292.27 L501.60,292.29 L501.70,292.31 L501.81,292.33 L501.91,292.35 L502.02,292.37 L502.12,292.39 L502.22,292.41 L502.33,292.43 L502.43,292.45 L502.54,292.47 L502.64,292.49 L502.74,292.51 L502.85,292.53 L502.95,292.55 L503.05,292.57 L503.15,292.59 L503.26,292.61 L503.36,292.63 L503.46,292.65 L503.56,292.67 L503.67,292.69 L503.77,292.71 L503.87,292.73 L503.97,292.75 L504.07,292.76 L504.17,292.78 L504.28,292.80 L504.38,292.82 L504.48,292.84 L504.58,292.86 L504.68,292.88 L504.78,292.89 L504.88,292.91 L504.98,292.93 L505.08,292.95 L505.18,292.97 L505.28,292.99 L505.38,293.00 L505.48,293.02 L505.58,293.04 L505.68,293.06 L505.78,293.08 L505.87,293.09 L505.97,293.11 L506.07,293.13 L506.17,293.15 L506.27,293.16 L506.37,293.18 L506.47,293.20 L506.56,293.22 L506.66,293.23 L506.76,293.25 L506.86,293.27 L506.95,293.29 L507.05,293.30 L507.15,293.32 L507.24,293.34 L507.34,293.35 L507.44,293.37 L507.53,293.39 L507.63,293.40 L507.73,293.42 L507.82,293.44 L507.92,293.45 L508.02,293.47 L508.11,293.49 L508.21,293.50 L508.30,293.52 L508.40,293.54 L508.49,293.55 L508.59,293.57 L508.68,293.59 L508.78,293.60 L508.87,293.62 L508.97,293.63 L509.06,293.65 L509.16,293.67 L509.25,293.68 L509.35,293.70 L509.44,293.71 L509.53,293.73 L509.63,293.75 L509.72,293.76 L509.81,293.78 L509.91,293.79 L510.00,293.81 L510.09,293.82 L510.19,293.84 L510.28,293.85 L510.37,293.87 L510.46,293.88 L510.56,293.90 L510.65,293.92 L510.74,293.93 L510.83,293.95 L510.93,293.96 L511.02,293.98 L511.11,293.99 L511.20,294.01 L511.29,294.02 L511.38,294.04 L511.48,294.05 L511.57,294.06 L511.66,294.08 L511.75,294.09 L511.84,294.11 L511.93,294.12 L512.02,294.14 L512.11,294.15 L512.20,294.17 L512.29,294.18 L512.38,294.20 L512.47,294.21 L512.56,294.22 L512.65,294.24 L512.74,294.25 L512.83,294.27 L512.92,294.28 L513.01,294.29 L513.10,294.31 L513.19,294.32 L513.28,294.34 L513.37,294.35 L513.46,294.36 L513.54,294.38 L513.63,294.39 L513.72,294.41 L513.81,294.42 L513.90,294.43 L513.99,294.45 L514.07,294.46 L514.16,294.47 L514.25,294.49 L514.34,294.50 L514.42,294.51 L514.51,294.53 L514.60,294.54 L514.69,294.55 L514.77,294.57 L514.86,294.58 L514.95,294.59 L515.03,294.61 L515.12,294.62 L515.21,294.63 L515.29,294.65 L515.38,294.66 L515.47,294.67 L515.55,294.69 L515.64,294.70 L515.72,294.71 L515.81,294.72 L515.90,294.74 L515.98,294.75 L516.07,294.76 L516.15,294.78 L516.24,294.79 L516.32,294.80 L516.41,294.81 L516.49,294.83 L516.58,294.84 L516.66,294.85 L516.75,294.86 L516.83,294.88 L516.92,294.89 L517.00,294.90 L517.09,294.91 L517.17,294.93 L517.25,294.94 L517.34,294.95 L517.42,294.96 L517.51,294.97 L517.59,294.99 L517.67,295.00 L517.76,295.01 L517.84,295.02 L517.92,295.03 L518.01,295.05 L518.09,295.06 L518.17,295.07 L518.26,295.08 L518.34,295.09 L518.42,295.11 L518.50,295.12 L518.59,295.13 L518.67,295.14 L518.75,295.15 L518.83,295.16 L518.91,295.18 L519.00,295.19 L519.08,295.20 L519.16,295.21 L519.24,295.22 L519.32,295.23 L519.41,295.25 L519.49,295.26 L519.57,295.27 L519.65,295.28 L519.73,295.29 L519.81,295.30 L519.89,295.31 L519.97,295.32 L520.05,295.34 L520.14,295.35 L520.22,295.36 L520.30,295.37 L520.38,295.38 L520.46,295.39 L520.54,295.40 L520.62,295.41 L520.70,295.42 L520.78,295.44 L520.86,295.45 L520.94,295.46 L521.02,295.47 L521.10,295.48 L521.18,295.49 L521.26,295.50 L521.34,295.51 L521.41,295.52 L521.49,295.53 L521.57,295.54 L521.65,295.55 L521.73,295.56 L521.81,295.57 L521.89,295.59 L521.97,295.60 L522.05,295.61 L522.12,295.62 L522.20,295.63 L522.28,295.64 L522.36,295.65 L522.44,295.66 L522.51,295.67 L522.59,295.68 L522.67,295.69 L522.75,295.70 L522.83,295.71 L522.90,295.72 L522.98,295.73 L523.06,295.74 L523.14,295.75 L523.21,295.76 L523.29,295.77 L523.37,295.78 L523.44,295.79 L523.52,295.80 L523.60,295.81 L523.67,295.82 L523.75,295.83 L523.83,295.84 L523.90,295.85 L523.98,295.86 L524.06,295.87 L524.13,295.88 L524.21,295.89 L524.29,295.90 L524.36,295.91 L524.44,295.92 L524.51,295.93 L524.59,295.94 L524.66,295.95 L524.74,295.96 L524.82,295.97 L524.89,295.98 L524.97,295.99 L525.04,296.00 L525.12,296.01 L525.19,296.02 L525.27,296.03 L525.34,296.03 L525.42,296.04 L525.49,296.05 L525.57,296.06 L525.64,296.07 L525.72,296.08 L525.79,296.09 L525.86,296.10 L525.94,296.11 L526.01,296.12 L526.09,296.13 L526.16,296.14 L526.24,296.15 L526.31,296.16 L526.38,296.16 L526.46,296.17 L526.53,296.18 L526.60,296.19 L526.68,296.20 L526.75,296.21 L526.82,296.22 L526.90,296.23 L526.97,296.24 L527.04,296.25 L527.12,296.26 L527.19,296.26 L527.26,296.27 L527.34,296.28 L527.41,296.29 L527.48,296.30 L527.55,296.31 L527.63,296.32 L527.70,296.33 L527.77,296.33 L527.84,296.34 L527.92,296.35 L527.99,296.36 L528.06,296.37 L528.13,296.38 L528.20,296.39 L528.28,296.40 L528.35,296.40 L528.42,296.41 L528.49,296.42 L528.56,296.43 L528.63,296.44 L528.71,296.45 L528.78,296.46 L528.85,296.46 L528.92,296.47 L528.99,296.48 L529.06,296.49 L529.13,296.50 L529.20,296.51 L529.28,296.51 L529.35,296.52 L529.42,296.53 L529.49,296.54 L529.56,296.55 L529.63,296.56 L529.70,296.56 L529.77,296.57 L529.84,296.58 L529.84,303.00 L528.06,302.98 L526.06,302.96 L524.06,302.93 L522.06,302.89 L520.06,302.85 L518.06,302.80 L516.06,302.75 L514.06,302.69 L512.06,302.63 L510.06,302.57 L508.06,302.50 L506.06,302.44 L504.06,302.37 L502.06,302.29 L500.06,302.20 L498.06,302.10 L496.06,302.00 L494.06,301.88 L492.06,301.76 L490.06,301.64 L488.06,301.50 L486.06,301.36 L484.06,301.21 L482.06,301.05 L480.06,300.87 L478.06,300.68 L476.06,300.48 L474.06,300.26 L472.06,300.03 L470.06,299.80 L468.06,299.56 L466.06,299.30 L464.06,299.03 L462.06,298.74 L460.06,298.44 L458.06,298.12 L456.06,297.78 L454.06,297.43 L452.06,297.07 L450.06,296.67 L448.06,296.26 L446.06,295.80 L444.06,295.32 L442.06,294.79 L440.06,294.22 L438.06,293.60 L436.06,292.94 L434.06,292.22 L432.06,291.42 L430.06,290.55 L428.06,289.61 L426.06,288.60 L424.06,287.53 L422.06,286.34 L420.06,285.06 L418.06,283.70 L416.06,282.29 L414.06,280.84 L412.06,279.32 L410.06,277.72 L408.06,276.08 L406.06,274.40 L404.06,272.70 L402.06,270.96 L400.06,269.17 L398.06,267.35 L396.06,265.50 L394.06,263.60 L392.06,261.64 L390.06,259.64 L388.06,257.67 L386.06,255.71 L384.06,253.76 L382.06,251.81 L380.06,249.87 L378.06,247.92 L376.06,245.99 L374.06,244.05 L372.06,242.13 L370.06,240.20 L368.06,238.29 L367.35,237.36 L366.64,237.52 L365.92,236.58 L365.19,235.63 L364.46,234.66 L363.71,234.81 L362.96,233.82 L362.20,232.82 L361.43,231.79 L360.66,231.94 L359.87,230.89 L359.08,229.84 L358.27,229.97 L357.46,228.89 L356.64,227.78 L355.81,226.67 L354.97,226.79 L354.12,225.65 L353.25,224.47 L352.38,224.61 L351.50,223.41 L350.60,222.19 L349.70,222.31 L348.78,221.07 L347.85,219.78 L346.90,219.92 L345.95,218.59 L344.98,217.27 L344.00,217.38 L343.00,216.01 L341.99,214.59 L340.96,214.72 L339.92,213.26 L338.87,211.80 L337.79,211.90 L336.70,210.39 L335.60,208.81 L334.47,208.93 L333.33,207.31 L332.17,207.44 L330.99,205.76 L329.79,204.07 L328.56,204.15 L327.32,202.41 L326.06,202.49 L324.77,200.69 L323.45,200.78 L322.11,198.91 L320.75,196.94 L319.36,197.06 L317.94,195.01 L316.49,195.14 L315.01,193.00 L313.50,193.14 L311.96,190.87 L310.38,191.22 L308.76,188.63 L307.11,189.24 L305.42,186.27 L303.68,187.14 L301.90,183.74 L300.08,184.88 L298.20,180.96 L296.28,182.37 L294.30,177.85 L292.26,179.53 L290.16,174.29 L288.00,176.23 L285.77,174.30 L283.47,172.33 L281.09,174.42 L278.62,167.90 L276.07,169.95 L273.41,172.73 L270.66,164.80 L267.79,167.62 L264.80,169.95 L261.68,161.64 L258.41,163.86 L254.98,167.27 L251.38,156.55 L247.58,160.02 L243.56,162.51 L239.30,161.57 L234.77,153.20 L229.92,157.64 L224.71,160.38 L219.09,166.23 L212.98,147.62 L206.28,153.87 L198.88,156.55 L190.60,165.76 L181.22,169.95 L170.39,184.84 L157.58,192.28 L141.90,220.20 L121.69,236.95 L93.20,303.95Z" fill="none" stroke="#ff0000" stroke-width="1.2" stroke-linejoin="round"/>
<path d="M93.20,303.95 L121.69,236.95 L141.90,220.20 L157.58,192.28 L170.39,184.84 L181.22,169.95 L190.60,165.76 L198.88,156.55 L206.28,153.87 L212.98,147.62 L219.09,166.23 L224.71,179.52 L229.92,193.19 L234.77,203.45 L239.30,213.92 L243.56,222.06 L247.58,230.33 L251.38,236.95 L254.98,243.65 L258.41,249.13 L261.68,253.70 L264.80,257.57 L267.79,260.88 L270.66,263.75 L273.41,266.26 L276.07,268.48 L278.62,270.45 L281.09,272.21 L283.47,273.80 L285.77,275.24 L288.00,276.54 L290.16,277.73 L292.26,278.82 L294.30,279.83 L296.28,280.76 L298.20,281.62 L300.08,282.41 L301.90,283.16 L303.68,283.85 L305.42,284.50 L307.11,285.11 L308.76,285.68 L310.38,286.21 L311.96,286.72 L313.50,287.20 L315.01,287.65 L316.49,288.08 L317.94,288.49 L319.36,288.88 L320.75,289.24 L322.11,289.59 L323.45,289.93 L324.77,290.25 L326.06,290.55 L327.32,290.84 L328.56,291.12 L329.79,291.39 L330.99,291.64 L332.17,291.89 L333.33,292.13 L334.47,292.35 L335.60,292.57 L336.70,292.78 L337.79,292.99 L338.87,293.18 L339.92,293.37 L340.96,293.55 L341.99,293.73 L343.00,293.90 L344.00,294.06 L344.98,294.22 L345.95,294.38 L346.90,294.53 L347.85,294.67 L348.78,294.81 L349.70,294.95 L350.60,295.08 L351.50,295.21 L352.38,295.34 L353.25,295.46 L354.12,295.57 L354.97,295.69 L355.81,295.80 L356.64,295.91 L357.46,296.02 L358.27,296.12 L359.08,296.22 L359.87,296.32 L360.66,296.41 L361.43,296.51 L362.20,296.60 L362.96,296.68 L363.71,296.77 L364.46,296.86 L365.19,296.94 L365.92,297.02 L366.64,297.10 L367.35,297.17 L368.06,297.25 L368.76,297.32 L369.45,297.40 L370.14,297.47 L370.82,297.54 L371.49,297.60 L372.15,297.67 L372.81,297.73 L373.47,297.80 L374.11,297.86 L374.76,297.92 L375.39,297.98 L376.02,298.04 L376.65,298.10 L377.27,298.15 L377.88,298.21 L378.49,298.26 L379.09,298.31 L379.69,298.37 L380.28,298.42 L380.87,298.47 L381.45,298.52 L382.03,298.57 L382.60,298.61 L383.17,298.66 L383.74,298.71 L384.30,298.75 L384.85,298.80 L385.40,298.84 L385.95,298.88 L386.49,298.93 L387.03,298.97 L387.57,299.01 L388.10,299.05 L388.62,299.09 L389.14,299.13 L389.66,299.16 L390.18,299.20 L390.69,299.24 L391.20,299.28 L391.70,299.31 L392.20,299.35 L392.70,299.38 L393.19,299.42 L393.68,299.45 L394.17,299.48 L394.65,299.52 L395.13,299.55 L395.60,299.58 L396.08,299.61 L396.55,299.64 L397.01,299.67 L397.48,299.70 L397.94,299.73 L398.40,299.76 L398.85,299.79 L399.30,299.82 L399.75,299.85 L400.20,299.88 L400.64,299.90 L401.08,299.93 L401.52,299.96 L401.95,299.98 L402.39,300.01 L402.82,300.03 L403.24,300.06 L403.67,300.08 L404.09,300.11 L404.51,300.13 L404.93,300.16 L405.34,300.18 L405.75,300.20 L406.16,300.23 L406.57,300.25 L406.98,300.27 L407.38,300.30 L407.78,300.32 L408.18,300.34 L408.57,300.36 L408.97,300.38 L409.36,300.40 L409.75,300.42 L410.13,300.44 L410.52,300.46 L410.90,300.48 L411.28,300.50 L411.66,300.52 L412.04,300.54 L412.41,300.56 L412.79,300.58 L413.16,300.60 L413.52,300.62 L413.89,300.64 L414.26,300.65 L414.62,300.67 L414.98,300.69 L415.34,300.71 L415.70,300.73 L416.05,300.74 L416.41,300.76 L416.76,300.78 L417.11,300.79 L417.46,300.81 L417.81,300.83 L418.15,300.84 L418.49,300.86 L418.84,300.87 L419.18,300.89 L419.52,300.90 L419.85,300.92 L420.19,300.94 L420.52,300.95 L420.85,300.96 L421.18,300.98 L421.51,300.99 L421.84,301.01 L422.17,301.02 L422.49,301.04 L422.81,301.05 L423.14,301.06 L423.46,301.08 L423.78,301.09 L424.09,301.11 L424.41,301.12 L424.72,301.13 L425.04,301.15 L425.35,301.16 L425.66,301.17 L425.97,301.18 L426.27,301.20 L426.58,301.21 L426.88,301.22 L427.19,301.23 L427.49,301.25 L427.79,301.26 L428.09,301.27 L428.39,301.28 L428.69,301.29 L428.98,301.31 L429.28,301.32 L429.57,301.33 L429.86,301.34 L430.15,301.35 L430.44,301.36 L430.73,301.37 L431.02,301.38 L431.30,301.39 L431.59,301.41 L431.87,301.42 L432.16,301.43 L432.44,301.44 L432.72,301.45 L433.00,301.46 L433.28,301.47 L433.55,301.48 L433.83,301.49 L434.10,301.50 L434.38,301.51 L434.65,301.52 L434.92,301.53 L435.19,301.54 L435.46,301.55 L435.73,301.56 L436.00,301.57 L436.27,301.58 L436.53,301.59 L436.80,301.59 L437.06,301.60 L437.32,301.61 L437.58,301.62 L437.85,301.63 L438.11,301.64 L438.36,301.65 L438.62,301.66 L438.88,301.67 L439.13,301.67 L439.39,301.68 L439.64,301.69 L439.90,301.70 L440.15,301.71 L440.40,301.72 L440.65,301.72 L440.90,301.73 L441.15,301.74 L441.40,301.75 L441.64,301.76 L441.89,301.77 L442.14,301.77 L442.38,301.78 L442.62,301.79 L442.87,301.80 L443.11,301.80 L443.35,301.81 L443.59,301.82 L443.83,301.83 L444.07,301.83 L444.30,301.84 L444.54,301.85 L444.78,301.86 L445.01,301.86 L445.25,301.87 L445.48,301.88 L445.71,301.88 L445.95,301.89 L446.18,301.90 L446.41,301.91 L446.64,301.91 L446.87,301.92 L447.10,301.93 L447.32,301.93 L447.55,301.94 L447.78,301.95 L448.00,301.95 L448.23,301.96 L448.45,301.97 L448.68,301.97 L448.90,301.98 L449.12,301.99 L449.34,301.99 L449.56,302.00 L449.78,302.00 L450.00,302.01 L450.22,302.02 L450.44,302.02 L450.66,302.03 L450.87,302.04 L451.09,302.04 L451.30,302.05 L451.52,302.05 L451.73,302.06 L451.94,302.07 L452.16,302.07 L452.37,302.08 L452.58,302.08 L452.79,302.09 L453.00,302.09 L453.21,302.10 L453.42,302.11 L453.63,302.11 L453.84,302.12 L454.04,302.12 L454.25,302.13 L454.45,302.13 L454.66,302.14 L454.86,302.14 L455.07,302.15 L455.27,302.16 L455.47,302.16 L455.68,302.17 L455.88,302.17 L456.08,302.18 L456.28,302.18 L456.48,302.19 L456.68,302.19 L456.88,302.20 L457.08,302.20 L457.27,302.21 L457.47,302.21 L457.67,302.22 L457.86,302.22 L458.06,302.23 L458.25,302.23 L458.45,302.24 L458.64,302.24 L458.83,302.25 L459.03,302.25 L459.22,302.26 L459.41,302.26 L459.60,302.27 L459.79,302.27 L459.98,302.27 L460.17,302.28 L460.36,302.28 L460.55,302.29 L460.74,302.29 L460.93,302.30 L461.11,302.30 L461.30,302.31 L461.49,302.31 L461.67,302.32 L461.86,302.32 L462.04,302.32 L462.23,302.33 L462.41,302.33 L462.59,302.34 L462.78,302.34 L462.96,302.35 L463.14,302.35 L463.32,302.35 L463.50,302.36 L463.68,302.36 L463.86,302.37 L464.04,302.37 L464.22,302.38 L464.40,302.38 L464.58,302.38 L464.75,302.39 L464.93,302.39 L465.11,302.40 L465.28,302.40 L465.46,302.40 L465.64,302.41 L465.81,302.41 L465.99,302.42 L466.16,302.42 L466.33,302.42 L466.51,302.43 L466.68,302.43 L466.85,302.43 L467.02,302.44 L467.20,302.44 L467.37,302.45 L467.54,302.45 L467.71,302.45 L467.88,302.46 L468.05,302.46 L468.22,302.46 L468.38,302.47 L468.55,302.47 L468.72,302.48 L468.89,302.48 L469.06,302.48 L469.22,302.49 L469.39,302.49 L469.55,302.49 L469.72,302.50 L469.89,302.50 L470.05,302.50 L470.21,302.51 L470.38,302.51 L470.54,302.51 L470.71,302.52 L470.87,302.52 L471.03,302.52 L471.19,302.53 L471.35,302.53 L471.52,302.53 L471.68,302.54 L471.84,302.54 L472.00,302.54 L472.16,302.55 L472.32,302.55 L472.48,302.55 L472.63,302.56 L472.79,302.56 L472.95,302.56 L473.11,302.57 L473.27,302.57 L473.42,302.57 L473.58,302.58 L473.74,302.58 L473.89,302.58 L474.05,302.59 L474.20,302.59 L474.36,302.59 L474.51,302.59 L474.67,302.60 L474.82,302.60 L474.97,302.60 L475.13,302.61 L475.28,302.61 L475.43,302.61 L475.59,302.62 L475.74,302.62 L475.89,302.62 L476.04,302.62 L476.19,302.63 L476.34,302.63 L476.49,302.63 L476.64,302.64 L476.79,302.64 L476.94,302.64 L477.09,302.64 L477.24,302.65 L477.39,302.65 L477.53,302.65 L477.68,302.66 L477.83,302.66 L477.98,302.66 L478.12,302.66 L478.27,302.67 L478.42,302.67 L478.56,302.67 L478.71,302.68 L478.85,302.68 L479.00,302.68 L479.14,302.68 L479.29,302.69 L479.43,302.69 L479.58,302.69 L479.72,302.69 L479.86,302.70 L480.01,302.70 L480.15,302.70 L480.29,302.70 L480.43,302.71 L480.57,302.71 L480.72,302.71 L480.86,302.71 L481.00,302.72 L481.14,302.72 L481.28,302.72 L481.42,302.72 L481.56,302.73 L481.70,302.73 L481.84,302.73 L481.98,302.73 L482.12,302.74 L482.25,302.74 L482.39,302.74 L482.53,302.74 L482.67,302.75 L482.81,302.75 L482.94,302.75 L483.08,302.75 L483.22,302.76 L483.35,302.76 L483.49,302.76 L483.62,302.76 L483.76,302.77 L483.89,302.77 L484.03,302.77 L484.16,302.77 L484.30,302.77 L484.43,302.78 L484.57,302.78 L484.70,302.78 L484.83,302.78 L484.97,302.79 L485.10,302.79 L485.23,302.79 L485.37,302.79 L485.50,302.79 L485.63,302.80 L485.76,302.80 L485.89,302.80 L486.02,302.80 L486.15,302.81 L486.29,302.81 L486.42,302.81 L486.55,302.81 L486.68,302.81 L486.81,302.82 L486.94,302.82 L487.06,302.82 L487.19,302.82 L487.32,302.82 L487.45,302.83 L487.58,302.83 L487.71,302.83 L487.84,302.83 L487.96,302.84 L488.09,302.84 L488.22,302.84 L488.34,302.84 L488.47,302.84 L488.60,302.85 L488.72,302.85 L488.85,302.85 L488.98,302.85 L489.10,302.85 L489.23,302.86 L489.35,302.86 L489.48,302.86 L489.60,302.86 L489.73,302.86 L489.85,302.87 L489.97,302.87 L490.10,302.87 L490.22,302.87 L490.34,302.87 L490.47,302.88 L490.59,302.88 L490.71,302.88 L490.84,302.88 L490.96,302.88 L491.08,302.88 L491.20,302.89 L491.32,302.89 L491.45,302.89 L491.57,302.89 L491.69,302.89 L491.81,302.90 L491.93,302.90 L492.05,302.90 L492.17,302.90 L492.29,302.90 L492.41,302.90 L492.53,302.91 L492.65,302.91 L492.77,302.91 L492.89,302.91 L493.01,302.91 L493.12,302.92 L493.24,302.92 L493.36,302.92 L493.48,302.92 L493.60,302.92 L493.71,302.92 L493.83,302.93 L493.95,302.93 L494.07,302.93 L494.18,302.93 L494.30,302.93 L494.42,302.93 L494.53,302.94 L494.65,302.94 L494.76,302.94 L494.88,302.94 L494.99,302.94 L495.11,302.94 L495.23,302.95 L495.34,302.95 L495.45,302.95 L495.57,302.95 L495.68,302.95 L495.80,302.95 L495.91,302.96 L496.03,302.96 L496.14,302.96 L496.25,302.96 L496.37,302.96 L496.48,302.96 L496.59,302.97 L496.70,302.97 L496.82,302.97 L496.93,302.97 L497.04,302.97 L497.15,302.97 L497.27,302.98 L497.38,302.98 L497.49,302.98 L497.60,302.98 L497.71,302.98 L497.82,302.98 L497.93,302.99 L498.04,302.99 L498.15,302.99 L498.26,302.99 L498.37,302.99 L498.48,302.99 L498.59,302.99 L498.70,303.00 L498.81,303.00 L498.92,303.00 L499.03,303.00 L499.14,303.00 L499.25,303.00 L499.36,303.00 L499.46,303.01 L499.57,303.01 L499.68,303.01 L499.79,303.01 L499.90,303.01 L500.00,303.01 L500.11,303.02 L500.22,303.02 L500.33,303.02 L500.43,303.02 L500.54,303.02 L500.65,303.02 L500.75,303.02 L500.86,303.03 L500.96,303.03 L501.07,303.03 L501.18,303.03 L501.28,303.03 L501.39,303.03 L501.49,303.03 L501.60,303.03 L501.70,303.04 L501.81,303.04 L501.91,303.04 L502.02,303.04 L502.12,303.04 L502.22,303.04 L502.33,303.04 L502.43,303.05 L502.54,303.05 L502.64,303.05 L502.74,303.05 L502.85,303.05 L502.95,303.05 L503.05,303.05 L503.15,303.06 L503.26,303.06 L503.36,303.06 L503.46,303.06 L503.56,303.06 L503.67,303.06 L503.77,303.06 L503.87,303.06 L503.97,303.07 L504.07,303.07 L504.17,303.07 L504.28,303.07 L504.38,303.07 L504.48,303.07 L504.58,303.07 L504.68,303.07 L504.78,303.08 L504.88,303.08 L504.98,303.08 L505.08,303.08 L505.18,303.08 L505.28,303.08 L505.38,303.08 L505.48,303.08 L505.58,303.09 L505.68,303.09 L505.78,303.09 L505.87,303.09 L505.97,303.09 L506.07,303.09 L506.17,303.09 L506.27,303.09 L506.37,303.10 L506.47,303.10 L506.56,303.10 L506.66,303.10 L506.76,303.10 L506.86,303.10 L506.95,303.10 L507.05,303.10 L507.15,303.11 L507.24,303.11 L507.34,303.11 L507.44,303.11 L507.53,303.11 L507.63,303.11 L507.73,303.11 L507.82,303.11 L507.92,303.11 L508.02,303.12 L508.11,303.12 L508.21,303.12 L508.30,303.12 L508.40,303.12 L508.49,303.12 L508.59,303.12 L508.68,303.12 L508.78,303.13 L508.87,303.13 L508.97,303.13 L509.06,303.13 L509.16,303.13 L509.25,303.13 L509.35,303.13 L509.44,303.13 L509.53,303.13 L509.63,303.14 L509.72,303.14 L509.81,303.14 L509.91,303.14 L510.00,303.14 L510.09,303.14 L510.19,303.14 L510.28,303.14 L510.37,303.14 L510.46,303.14 L510.56,303.15 L510.65,303.15 L510.74,303.15 L510.83,303.15 L510.93,303.15 L511.02,303.15 L511.11,303.15 L511.20,303.15 L511.29,303.15 L511.38,303.16 L511.48,303.16 L511.57,303.16 L511.66,303.16 L511.75,303.16 L511.84,303.16 L511.93,303.16 L512.02,303.16 L512.11,303.16 L512.20,303.16 L512.29,303.17 L512.38,303.17 L512.47,303.17 L512.56,303.17 L512.65,303.17 L512.74,303.17 L512.83,303.17 L512.92,303.17 L513.01,303.17 L513.10,303.17 L513.19,303.18 L513.28,303.18 L513.37,303.18 L513.46,303.18 L513.54,303.18 L513.63,303.18 L513.72,303.18 L513.81,303.18 L513.90,303.18 L513.99,303.18 L514.07,303.19 L514.16,303.19 L514.25,303.19 L514.34,303.19 L514.42,303.19 L514.51,303.19 L514.60,303.19 L514.69,303.19 L514.77,303.19 L514.86,303.19 L514.95,303.20 L515.03,303.20 L515.12,303.20 L515.21,303.20 L515.29,303.20 L515.38,303.20 L515.47,303.20 L515.55,303.20 L515.64,303.20 L515.72,303.20 L515.81,303.20 L515.90,303.21 L515.98,303.21 L516.07,303.21 L516.15,303.21 L516.24,303.21 L516.32,303.21 L516.41,303.21 L516.49,303.21 L516.58,303.21 L516.66,303.21 L516.75,303.21 L516.83,303.22 L516.92,303.22 L517.00,303.22 L517.09,303.22 L517.17,303.22 L517.25,303.22 L517.34,303.22 L517.42,303.22 L517.51,303.22 L517.59,303.22 L517.67,303.22 L517.76,303.23 L517.84,303.23 L517.92,303.23 L518.01,303.23 L518.09,303.23 L518.17,303.23 L518.26,303.23 L518.34,303.23 L518.42,303.23 L518.50,303.23 L518.59,303.23 L518.67,303.23 L518.75,303.24 L518.83,303.24 L518.91,303.24 L519.00,303.24 L519.08,303.24 L519.16,303.24 L519.24,303.24 L519.32,303.24 L519.41,303.24 L519.49,303.24 L519.57,303.24 L519.65,303.24 L519.73,303.25 L519.81,303.25 L519.89,303.25 L519.97,303.25 L520.05,303.25 L520.14,303.25 L520.22,303.25 L520.30,303.25 L520.38,303.25 L520.46,303.25 L520.54,303.25 L520.62,303.25 L520.70,303.26 L520.78,303.26 L520.86,303.26 L520.94,303.26 L521.02,303.26 L521.10,303.26 L521.18,303.26 L521.26,303.26 L521.34,303.26 L521.41,303.26 L521.49,303.26 L521.57,303.26 L521.65,303.26 L521.73,303.27 L521.81,303.27 L521.89,303.27 L521.97,303.27 L522.05,303.27 L522.12,303.27 L522.20,303.27 L522.28,303.27 L522.36,303.27 L522.44,303.27 L522.51,303.27 L522.59,303.27 L522.67,303.27 L522.75,303.28 L522.83,303.28 L522.90,303.28 L522.98,303.28 L523.06,303.28 L523.14,303.28 L523.21,303.28 L523.29,303.28 L523.37,303.28 L523.44,303.28 L523.52,303.28 L523.60,303.28 L523.67,303.28 L523.75,303.29 L523.83,303.29 L523.90,303.29 L523.98,303.29 L524.06,303.29 L524.13,303.29 L524.21,303.29 L524.29,303.29 L524.36,303.29 L524.44,303.29 L524.51,303.29 L524.59,303.29 L524.66,303.29 L524.74,303.29 L524.82,303.30 L524.89,303.30 L524.97,303.30 L525.04,303.30 L525.12,303.30 L525.19,303.30 L525.27,303.30 L525.34,303.30 L525.42,303.30 L525.49,303.30 L525.57,303.30 L525.64,303.30 L525.72,303.30 L525.79,303.30 L525.86,303.31 L525.94,303.31 L526.01,303.31 L526.09,303.31 L526.16,303.31 L526.24,303.31 L526.31,303.31 L526.38,303.31 L526.46,303.31 L526.53,303.31 L526.60,303.31 L526.68,303.31 L526.75,303.31 L526.82,303.31 L526.90,303.31 L526.97,303.32 L527.04,303.32 L527.12,303.32 L527.19,303.32 L527.26,303.32 L527.34,303.32 L527.41,303.32 L527.48,303.32 L527.55,303.32 L527.63,303.32 L527.70,303.32 L527.77,303.32 L527.84,303.32 L527.92,303.32 L527.99,303.32 L528.06,303.33 L528.13,303.33 L528.20,303.33 L528.28,303.33 L528.35,303.33 L528.42,303.33 L528.49,303.33 L528.56,303.33 L528.63,303.33 L528.71,303.33 L528.78,303.33 L528.85,303.33 L528.92,303.33 L528.99,303.33 L529.06,303.33 L529.13,303.33 L529.20,303.34 L529.28,303.34 L529.35,303.34 L529.42,303.34 L529.49,303.34 L529.56,303.34 L529.63,303.34 L529.70,303.34 L529.77,303.34 L529.84,303.34 L529.84,303.70 L368.00,303.30 L337.00,303.00 L318.40,302.70 L305.90,302.00 L294.60,299.10 L280.80,297.20 L268.90,295.00 L249.50,280.60 L239.30,276.73 L224.71,259.28 L219.09,259.28 L212.98,259.28 L206.28,250.35 L198.88,236.95 L190.60,245.32 L170.39,222.06 L157.58,236.95 L141.90,220.20 L121.69,236.95 L93.20,303.95Z" fill="none" stroke="#000" stroke-width="1.3" stroke-linejoin="round"/>
</g>
<rect x="93.20" y="9.30" width="436.64" height="361.65" fill="none" stroke="#3e3e3e" stroke-width="1.9"/>
<g fill="#141414" stroke="#fff" stroke-width="0.18" font-family="Liberation Serif, serif">
<text transform="translate(73.52,377.44) scale(1.1084,1.0303)" font-size="19.5">0</text>
<text transform="translate(73.55,310.65) scale(1.0870,1.0543)" font-size="19.5">1</text>
<text transform="translate(73.24,243.65) scale(1.1795,1.0543)" font-size="19.5">2</text>
<text transform="translate(73.28,176.44) scale(1.1358,1.0382)" font-size="19.5">3</text>
<text transform="translate(73.89,109.65) scale(1.0222,1.0625)" font-size="19.5">4</text>
<text transform="translate(73.02,42.44) scale(1.1646,1.0462)" font-size="19.5">5</text>
<text transform="translate(190.66,396.59) scale(1.0702,1.0530)" font-size="19.5">10</text>
<text transform="translate(213.35,388.90) scale(0.9400,1.0326)" font-size="14">1</text>
<text transform="translate(352.44,396.59) scale(1.0702,1.0530)" font-size="19.5">10</text>
<text transform="translate(373.42,388.90) scale(1.2321,1.0430)" font-size="14">2</text>
<text transform="translate(514.22,396.59) scale(1.0702,1.0530)" font-size="19.5">10</text>
<text transform="translate(535.11,388.80) scale(1.1897,1.0319)" font-size="14">3</text>
<text transform="translate(301.34,428.70) scale(1.1965,1.0764)" font-size="24" font-style="italic">N</text>
</g>
<g transform="translate(0,434) rotate(-90)" fill="#141414" stroke="#fff" stroke-width="0.18" font-family="Liberation Serif, serif">
<path d="M192.64,41.39 C193.21,39.73 194.62,38.57 195.88,39.56 C197.29,40.89 198.14,43.55 199.27,46.54 C200.40,49.52 201.81,53.18 203.22,54.67 C204.20,55.67 205.33,55.17 206.04,53.51" fill="none" stroke="#141414" stroke-width="1.60" stroke-linecap="round"/><path d="M206.60,38.90 L192.64,54.67" fill="none" stroke="#141414" stroke-width="0.85" stroke-linecap="round"/>
<g stroke="none"><text transform="translate(206.49,53.92) scale(1.0090,1.0513)" font-size="16">gen</text></g>
<text transform="translate(233.20,55.59) scale(1.5075,1.5250)" font-size="24">/</text>
<path d="M245.24,41.39 C245.81,39.73 247.22,38.57 248.48,39.56 C249.89,40.89 250.74,43.55 251.87,46.54 C253.00,49.52 254.41,53.18 255.82,54.67 C256.80,55.67 257.93,55.17 258.64,53.51" fill="none" stroke="#141414" stroke-width="1.60" stroke-linecap="round"/><path d="M259.20,38.90 L245.24,54.67" fill="none" stroke="#141414" stroke-width="0.85" stroke-linecap="round"/>
<g stroke="none"><text transform="translate(259.07,53.99) scale(1.0483,1.0435)" font-size="16">const</text></g>
</g>
<g fill="#141414" stroke="#fff" stroke-width="0.18" font-family="Liberation Serif, serif">
<path d="M372.12,40.03 C372.57,38.81 373.73,37.96 374.76,38.69 C375.91,39.66 376.60,41.62 377.52,43.81 C378.44,46.01 379.59,48.69 380.74,49.79 C381.55,50.52 382.46,50.16 383.04,48.94" fill="none" stroke="#141414" stroke-width="1.35" stroke-linecap="round"/><path d="M383.50,38.20 L372.12,49.79" fill="none" stroke="#141414" stroke-width="0.75" stroke-linecap="round"/>
<g stroke="none"><text transform="translate(384.20,48.10) scale(1.0058,1)" font-size="14.3">gen, max</text></g>
<line x1="366.3" y1="53.7" x2="443.6" y2="53.7" stroke="#222" stroke-width="1.2"/>
<path d="M367.32,63.86 C367.78,62.62 368.94,61.75 369.98,62.50 C371.14,63.49 371.84,65.47 372.77,67.70 C373.70,69.94 374.86,72.66 376.02,73.78 C376.83,74.52 377.76,74.15 378.34,72.91" fill="none" stroke="#141414" stroke-width="1.35" stroke-linecap="round"/><path d="M378.80,62.00 L367.32,73.78" fill="none" stroke="#141414" stroke-width="0.75" stroke-linecap="round"/>
<g stroke="none"><text transform="translate(379.09,72.40) scale(1.0179,1)" font-size="14.3">const, max</text></g>
<line x1="414.6" y1="83.8" x2="422.6" y2="104.9" stroke="#111" stroke-width="1.15"/>
</g>
<rect x="106.7" y="20.5" width="165.2" height="89.0" fill="#fff" stroke="#303030" stroke-width="1.6"/>
<line x1="115" y1="38.3" x2="157" y2="38.3" stroke="#0000ff" stroke-width="2.2"/>
<clipPath id="clr"><rect x="114.9" y="57.9" width="41.2" height="13.9"/></clipPath>
<path d="M119.18,13.02 L186.72,82.97 M115.62,16.46 L183.16,86.40 M112.06,19.90 L179.60,89.84 M108.50,23.34 L176.04,93.28 M104.94,26.78 L172.48,96.72 M101.38,30.22 L168.92,100.16 M97.82,33.66 L165.36,103.60 M94.26,37.09 L161.80,107.04 M90.70,40.53 L158.24,110.47 M87.14,43.97 L154.68,113.91 M83.58,47.41 L151.12,117.35" clip-path="url(#clr)" stroke="#ff8a8a" stroke-width="1.90" fill="none"/>
<rect x="114.9" y="57.9" width="41.2" height="13.9" fill="none" stroke="#000" stroke-width="1.8"/>
<clipPath id="clb"><rect x="114.9" y="84.9" width="41.2" height="14.1"/></clipPath>
<path d="M82.40,109.01 L148.82,37.79 M86.17,112.52 L152.58,41.30 M89.94,116.04 L156.35,44.82 M93.70,119.55 L160.11,48.33 M97.47,123.06 L163.88,51.84 M101.24,126.57 L167.65,55.35 M105.00,130.08 L171.41,58.87 M108.77,133.60 L175.18,62.38 M112.54,137.11 L178.95,65.89 M116.30,140.62 L182.71,69.40 M120.07,144.13 L186.48,72.92" clip-path="url(#clb)" stroke="#000" stroke-width="2.30" fill="none"/>
<rect x="114.9" y="84.9" width="41.2" height="14.1" fill="none" stroke="#000" stroke-width="1.8"/>
<g fill="#141414" stroke="#fff" stroke-width="0.18" font-family="Liberation Serif, serif">
<text transform="translate(166.08,43.00) scale(1.4343,1.0890)" font-size="18" font-style="italic">T</text>
<text transform="translate(181.90,43.00) scale(1.1481,1)" font-size="18">,</text>
<text transform="translate(191.44,43.00) scale(1.3796,1.0890)" font-size="18" font-style="italic">R</text>
<text transform="translate(212.82,46.03) scale(1.5357,1.3333)" font-size="18">&lt;</text>
<text transform="translate(234.27,45.25) scale(1.6140,1.1449)" font-size="18">∞</text>
<text transform="translate(161.08,70.15) scale(1.4343,1.0890)" font-size="18" font-style="italic">T</text>
<text transform="translate(176.90,70.15) scale(1.1481,1)" font-size="18">,</text>
<text transform="translate(186.44,70.15) scale(1.3796,1.0890)" font-size="18" font-style="italic">R</text>
<text transform="translate(208.12,73.65) scale(1.5357,1.5631)" font-size="18">≤</text>
<text transform="translate(228.32,70.28) scale(1.1741,1.0943)" font-size="18">100</text>
<text transform="translate(166.08,96.65) scale(1.4343,1.0890)" font-size="18" font-style="italic">T</text>
<text transform="translate(181.90,96.65) scale(1.1481,1)" font-size="18">,</text>
<text transform="translate(191.44,96.65) scale(1.3796,1.0890)" font-size="18" font-style="italic">R</text>
<text transform="translate(213.12,100.15) scale(1.5357,1.5631)" font-size="18">≤</text>
<text transform="translate(235.28,96.78) scale(1.0764,1.0943)" font-size="18">10</text>
</g>
</svg>
</body></html>
